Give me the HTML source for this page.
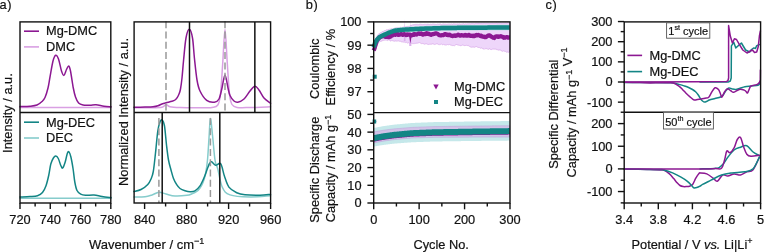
<!DOCTYPE html>
<html><head><meta charset="utf-8"><style>
html,body{margin:0;padding:0;background:#fff;}
svg{display:block;font-family:"Liberation Sans", sans-serif;will-change:transform;}
text{fill:#111;stroke:#111;stroke-width:0.2px;}
</style></head><body>
<svg width="764" height="252" viewBox="0 0 764 252" font-family="Liberation Sans, sans-serif">
<rect width="764" height="252" fill="#fff"/>
<text x="-0.6" y="8.6" font-size="12.8" text-anchor="start" letter-spacing="0.7">a)</text>
<text x="305.7" y="8.6" font-size="12.8" text-anchor="start" letter-spacing="0.8">b)</text>
<text x="545.4" y="8.6" font-size="12.8" text-anchor="start" letter-spacing="0.8">c)</text>
<path d="M20.00,107.60 L111.00,107.60" fill="none" stroke="#d9a0e3" stroke-width="1.5" stroke-linejoin="round" stroke-linecap="round" />
<path d="M20.00,106.60 C21.67,106.53 27.17,106.47 30.00,106.20 C32.83,105.93 35.00,105.78 37.00,105.00 C39.00,104.22 40.67,102.75 42.00,101.50 C43.33,100.25 44.00,99.75 45.00,97.50 C46.00,95.25 47.17,91.42 48.00,88.00 C48.83,84.58 49.17,81.50 50.00,77.00 C50.83,72.50 52.05,64.63 53.00,61.00 C53.95,57.37 54.78,55.53 55.70,55.20 C56.62,54.87 57.53,56.37 58.50,59.00 C59.47,61.63 60.60,68.27 61.50,71.00 C62.40,73.73 63.07,75.65 63.90,75.40 C64.73,75.15 65.70,71.07 66.50,69.50 C67.30,67.93 68.03,65.75 68.70,66.00 C69.37,66.25 69.73,67.33 70.50,71.00 C71.27,74.67 72.47,83.67 73.30,88.00 C74.13,92.33 74.62,94.50 75.50,97.00 C76.38,99.50 77.35,101.67 78.60,103.00 C79.85,104.33 81.10,104.63 83.00,105.00 C84.90,105.37 87.83,105.23 90.00,105.20 C92.17,105.17 93.67,104.63 96.00,104.80 C98.33,104.97 101.50,105.87 104.00,106.20 C106.50,106.53 109.83,106.70 111.00,106.80" fill="none" stroke="#8c1892" stroke-width="1.5" stroke-linejoin="round" stroke-linecap="round" />
<path d="M20.00,198.30 L111.00,198.30" fill="none" stroke="#86cccc" stroke-width="1.5" stroke-linejoin="round" stroke-linecap="round" />
<path d="M20.00,197.00 C21.67,196.93 27.08,196.82 30.00,196.60 C32.92,196.38 35.42,196.38 37.50,195.70 C39.58,195.02 41.08,194.17 42.50,192.50 C43.92,190.83 44.95,188.62 46.00,185.70 C47.05,182.78 48.00,178.62 48.80,175.00 C49.60,171.38 50.03,166.83 50.80,164.00 C51.57,161.17 52.57,159.33 53.40,158.00 C54.23,156.67 54.98,155.92 55.80,156.00 C56.62,156.08 57.47,156.92 58.30,158.50 C59.13,160.08 60.07,163.92 60.80,165.50 C61.53,167.08 61.97,168.58 62.70,168.00 C63.43,167.42 64.43,164.42 65.20,162.00 C65.97,159.58 66.68,155.20 67.30,153.50 C67.92,151.80 68.30,151.22 68.90,151.80 C69.50,152.38 70.20,154.13 70.90,157.00 C71.60,159.87 72.45,164.83 73.10,169.00 C73.75,173.17 74.15,178.42 74.80,182.00 C75.45,185.58 76.02,188.47 77.00,190.50 C77.98,192.53 79.28,193.40 80.70,194.20 C82.12,195.00 83.28,195.17 85.50,195.30 C87.72,195.43 91.25,194.80 94.00,195.00 C96.75,195.20 99.17,196.07 102.00,196.50 C104.83,196.93 109.50,197.42 111.00,197.60" fill="none" stroke="#138585" stroke-width="1.5" stroke-linejoin="round" stroke-linecap="round" />
<path d="M134.00,107.80 C136.67,107.80 145.33,107.90 150.00,107.80 C154.67,107.70 159.33,107.73 162.00,107.20 C164.67,106.67 164.67,104.67 166.00,104.60 C167.33,104.53 167.67,106.30 170.00,106.80 C172.33,107.30 175.00,107.43 180.00,107.60 C185.00,107.77 194.67,107.83 200.00,107.80 C205.33,107.77 209.03,107.87 212.00,107.40 C214.97,106.93 216.38,107.23 217.80,105.00 C219.22,102.77 219.67,101.17 220.50,94.00 C221.33,86.83 222.05,72.75 222.80,62.00 C223.55,51.25 224.27,29.50 225.00,29.50 C225.73,29.50 226.45,51.25 227.20,62.00 C227.95,72.75 228.70,86.92 229.50,94.00 C230.30,101.08 230.75,102.27 232.00,104.50 C233.25,106.73 234.00,106.90 237.00,107.40 C240.00,107.90 244.40,107.60 250.00,107.50 C255.60,107.40 267.17,106.92 270.60,106.80" fill="none" stroke="#d9a0e3" stroke-width="1.5" stroke-linejoin="round" stroke-linecap="round" />
<path d="M134.00,107.30 C135.83,107.27 141.83,107.18 145.00,107.10 C148.17,107.02 150.83,107.02 153.00,106.80 C155.17,106.58 156.50,106.27 158.00,105.80 C159.50,105.33 160.67,104.50 162.00,104.00 C163.33,103.50 164.33,103.25 166.00,102.80 C167.67,102.35 170.50,101.77 172.00,101.30 C173.50,100.83 174.13,100.62 175.00,100.00 C175.87,99.38 176.53,98.60 177.20,97.60 C177.87,96.60 178.45,95.43 179.00,94.00 C179.55,92.57 180.00,91.67 180.50,89.00 C181.00,86.33 181.48,82.83 182.00,78.00 C182.52,73.17 182.93,66.67 183.60,60.00 C184.27,53.33 185.05,43.12 186.00,38.00 C186.95,32.88 188.22,29.30 189.30,29.30 C190.38,29.30 191.65,33.22 192.50,38.00 C193.35,42.78 193.65,51.00 194.40,58.00 C195.15,65.00 196.07,74.50 197.00,80.00 C197.93,85.50 198.38,87.60 200.00,91.00 C201.62,94.40 204.30,98.53 206.70,100.40 C209.10,102.27 212.35,102.43 214.40,102.20 C216.45,101.97 217.73,101.37 219.00,99.00 C220.27,96.63 221.00,92.00 222.00,88.00 C223.00,84.00 224.00,75.00 225.00,75.00 C226.00,75.00 227.17,84.58 228.00,88.00 C228.83,91.42 229.00,93.33 230.00,95.50 C231.00,97.67 232.70,99.88 234.00,101.00 C235.30,102.12 236.13,102.53 237.80,102.20 C239.47,101.87 241.97,100.87 244.00,99.00 C246.03,97.13 248.18,93.13 250.00,91.00 C251.82,88.87 253.40,86.37 254.90,86.20 C256.40,86.03 257.48,88.03 259.00,90.00 C260.52,91.97 262.07,95.78 264.00,98.00 C265.93,100.22 269.50,102.42 270.60,103.30" fill="none" stroke="#8c1892" stroke-width="1.5" stroke-linejoin="round" stroke-linecap="round" />
<path d="M134.00,197.10 C135.83,197.05 142.00,197.15 145.00,196.80 C148.00,196.45 149.68,195.77 152.00,195.00 C154.32,194.23 156.57,192.37 158.90,192.20 C161.23,192.03 163.32,193.37 166.00,194.00 C168.68,194.63 171.50,195.78 175.00,196.00 C178.50,196.22 184.17,195.67 187.00,195.30 C189.83,194.93 190.38,194.43 192.00,193.80 C193.62,193.17 195.37,192.47 196.70,191.50 C198.03,190.53 198.95,189.50 200.00,188.00 C201.05,186.50 202.08,184.83 203.00,182.50 C203.92,180.17 204.75,177.75 205.50,174.00 C206.25,170.25 206.92,166.00 207.50,160.00 C208.08,154.00 208.52,144.90 209.00,138.00 C209.48,131.10 209.82,119.10 210.40,118.60 C210.98,118.10 211.73,128.10 212.50,135.00 C213.27,141.90 214.12,154.33 215.00,160.00 C215.88,165.67 216.60,164.50 217.80,169.00 C219.00,173.50 220.17,182.68 222.20,187.00 C224.23,191.32 225.37,193.23 230.00,194.90 C234.63,196.57 243.23,196.85 250.00,197.00 C256.77,197.15 267.17,196.00 270.60,195.80" fill="none" stroke="#86cccc" stroke-width="1.5" stroke-linejoin="round" stroke-linecap="round" />
<path d="M134.00,191.50 C135.17,191.17 138.70,190.68 141.00,189.50 C143.30,188.32 146.13,186.15 147.80,184.40 C149.47,182.65 150.08,181.15 151.00,179.00 C151.92,176.85 152.55,175.83 153.30,171.50 C154.05,167.17 154.75,159.75 155.50,153.00 C156.25,146.25 157.05,136.17 157.80,131.00 C158.55,125.83 159.27,123.83 160.00,122.00 C160.73,120.17 161.45,119.33 162.20,120.00 C162.95,120.67 163.78,121.83 164.50,126.00 C165.22,130.17 165.83,139.33 166.50,145.00 C167.17,150.67 167.75,155.83 168.50,160.00 C169.25,164.17 170.17,166.92 171.00,170.00 C171.83,173.08 172.55,176.05 173.50,178.50 C174.45,180.95 175.62,183.03 176.70,184.70 C177.78,186.37 178.62,187.50 180.00,188.50 C181.38,189.50 183.33,190.17 185.00,190.70 C186.67,191.23 188.33,191.67 190.00,191.70 C191.67,191.73 193.33,191.87 195.00,190.90 C196.67,189.93 198.50,188.08 200.00,185.90 C201.50,183.72 202.83,180.48 204.00,177.80 C205.17,175.12 206.08,172.18 207.00,169.80 C207.92,167.42 208.73,164.83 209.50,163.50 C210.27,162.17 210.58,161.50 211.60,161.80 C212.62,162.10 214.08,164.97 215.60,165.30 C217.12,165.63 219.23,162.02 220.70,163.80 C222.17,165.58 223.03,172.12 224.40,176.00 C225.77,179.88 226.85,184.32 228.90,187.10 C230.95,189.88 234.02,191.42 236.70,192.70 C239.38,193.98 241.12,194.38 245.00,194.80 C248.88,195.22 255.73,195.27 260.00,195.20 C264.27,195.13 268.83,194.53 270.60,194.40" fill="none" stroke="#138585" stroke-width="1.5" stroke-linejoin="round" stroke-linecap="round" />
<line x1="166" y1="21.2" x2="166" y2="112.5" stroke="#999" stroke-width="1.5" stroke-dasharray="7,3.3"/>
<line x1="225" y1="21.2" x2="225" y2="112.5" stroke="#999" stroke-width="1.5" stroke-dasharray="7,3.3"/>
<line x1="189.5" y1="21.9" x2="189.5" y2="112.5" stroke="#111" stroke-width="1.5" />
<line x1="254.85" y1="21.9" x2="254.85" y2="112.5" stroke="#111" stroke-width="1.5" />
<line x1="158.9" y1="118" x2="158.9" y2="203" stroke="#999" stroke-width="1.5" stroke-dasharray="7,3.3"/>
<line x1="210.4" y1="118" x2="210.4" y2="203" stroke="#999" stroke-width="1.5" stroke-dasharray="7,3.3"/>
<line x1="162.2" y1="112.5" x2="162.2" y2="203" stroke="#111" stroke-width="1.5" />
<line x1="219.8" y1="112.5" x2="219.8" y2="203" stroke="#111" stroke-width="1.5" />
<rect x="20" y="21.9" width="90.8" height="181.1" fill="none" stroke="#111" stroke-width="1.4"/>
<line x1="20" y1="112.5" x2="110.8" y2="112.5" stroke="#111" stroke-width="1.4" />
<rect x="134.1" y="21.9" width="136.50000000000003" height="181.1" fill="none" stroke="#111" stroke-width="1.4"/>
<line x1="134.1" y1="112.5" x2="270.6" y2="112.5" stroke="#111" stroke-width="1.4" />
<line x1="20.0" y1="203" x2="20.0" y2="209" stroke="#111" stroke-width="1.4" />
<text x="20.0" y="224.0" font-size="12.8" text-anchor="middle" >720</text>
<line x1="35.13333333333333" y1="203" x2="35.13333333333333" y2="206.5" stroke="#111" stroke-width="1.4" />
<line x1="50.266666666666666" y1="203" x2="50.266666666666666" y2="209" stroke="#111" stroke-width="1.4" />
<text x="50.266666666666666" y="224.0" font-size="12.8" text-anchor="middle" >740</text>
<line x1="65.4" y1="203" x2="65.4" y2="206.5" stroke="#111" stroke-width="1.4" />
<line x1="80.53333333333333" y1="203" x2="80.53333333333333" y2="209" stroke="#111" stroke-width="1.4" />
<text x="80.53333333333333" y="224.0" font-size="12.8" text-anchor="middle" >760</text>
<line x1="95.66666666666667" y1="203" x2="95.66666666666667" y2="206.5" stroke="#111" stroke-width="1.4" />
<line x1="110.8" y1="203" x2="110.8" y2="209" stroke="#111" stroke-width="1.4" />
<text x="110.8" y="224.0" font-size="12.8" text-anchor="middle" >780</text>
<line x1="144.6" y1="203" x2="144.6" y2="209" stroke="#111" stroke-width="1.4" />
<text x="144.6" y="224.0" font-size="12.8" text-anchor="middle" >840</text>
<line x1="165.6" y1="203" x2="165.6" y2="206.5" stroke="#111" stroke-width="1.4" />
<line x1="186.60000000000002" y1="203" x2="186.60000000000002" y2="209" stroke="#111" stroke-width="1.4" />
<text x="186.60000000000002" y="224.0" font-size="12.8" text-anchor="middle" >880</text>
<line x1="207.60000000000002" y1="203" x2="207.60000000000002" y2="206.5" stroke="#111" stroke-width="1.4" />
<line x1="228.60000000000002" y1="203" x2="228.60000000000002" y2="209" stroke="#111" stroke-width="1.4" />
<text x="228.60000000000002" y="224.0" font-size="12.8" text-anchor="middle" >920</text>
<line x1="249.60000000000002" y1="203" x2="249.60000000000002" y2="206.5" stroke="#111" stroke-width="1.4" />
<line x1="270.6" y1="203" x2="270.6" y2="209" stroke="#111" stroke-width="1.4" />
<text x="270.6" y="224.0" font-size="12.8" text-anchor="middle" >960</text>
<text x="89.0" y="248.8" font-size="13" text-anchor="start" >Wavenumber / cm<tspan dy="-4.8" font-size="9">−1</tspan></text>
<line x1="24" y1="31.2" x2="39" y2="31.2" stroke="#8c1892" stroke-width="1.6" />
<text x="46" y="35.4" font-size="12.8" text-anchor="start" >Mg-DMC</text>
<line x1="24" y1="46.9" x2="39" y2="46.9" stroke="#d9a0e3" stroke-width="1.6" />
<text x="46" y="51.3" font-size="12.8" text-anchor="start" >DMC</text>
<line x1="24" y1="122.2" x2="39" y2="122.2" stroke="#138585" stroke-width="1.6" />
<text x="46" y="126.6" font-size="12.8" text-anchor="start" >Mg-DEC</text>
<line x1="24" y1="138" x2="39" y2="138" stroke="#86cccc" stroke-width="1.6" />
<text x="46" y="142.3" font-size="12.8" text-anchor="start" >DEC</text>
<text transform="translate(12.2,113.1) rotate(-90)" font-size="12.8" text-anchor="middle">Intensity / a.u.</text>
<text transform="translate(127.6,112) rotate(-90)" font-size="12.8" text-anchor="middle">Normalized Intensity / a.u.</text>
<path d="M373.70,50.07 L374.20,48.13 L374.70,46.15 L375.20,44.23 L375.70,42.09 L376.20,40.19 L376.70,37.64 L377.20,35.89 L377.70,34.85 L378.20,34.37 L378.70,34.22 L379.20,33.45 L379.70,33.37 L380.20,32.94 L380.70,32.82 L381.20,32.54 L381.70,31.90 L382.20,31.73 L382.70,31.46 L383.20,31.55 L383.70,31.16 L384.20,30.64 L384.70,30.86 L385.20,30.31 L385.70,30.44 L386.20,29.98 L386.70,29.75 L387.20,30.11 L387.70,29.56 L388.20,29.40 L388.70,29.71 L389.20,29.48 L389.70,28.97 L390.20,29.30 L390.70,28.96 L391.20,28.97 L391.70,28.60 L392.20,28.96 L392.70,28.73 L393.20,28.82 L393.70,28.70 L394.20,28.26 L394.70,28.22 L395.20,28.02 L395.70,27.93 L396.20,27.80 L396.70,27.86 L397.20,27.96 L397.70,27.52 L398.20,27.85 L398.70,27.56 L399.20,27.47 L399.70,27.69 L400.20,27.44 L400.70,27.29 L401.20,27.34 L401.70,27.42 L402.20,26.98 L402.70,27.49 L403.20,26.86 L403.70,27.25 L404.20,27.26 L404.70,26.71 L405.20,27.12 L405.70,26.82 L406.20,26.90 L406.70,26.51 L407.20,26.48 L407.70,26.51 L408.20,26.79 L408.70,26.15 L409.20,26.30 L409.70,26.22 L410.20,26.05 L410.70,25.51 L411.20,25.33 L411.70,25.25 L412.20,25.22 L412.70,24.63 L413.20,24.83 L413.70,24.68 L414.20,24.71 L414.70,24.21 L415.20,24.75 L415.70,24.23 L416.20,24.37 L416.70,24.53 L417.20,24.71 L417.70,24.35 L418.20,24.70 L418.70,24.46 L419.20,24.32 L419.70,24.32 L420.20,24.23 L420.70,24.16 L421.20,24.20 L421.70,24.51 L422.20,24.69 L422.70,24.18 L423.20,24.11 L423.70,24.67 L424.20,24.39 L424.70,24.31 L425.20,24.20 L425.70,24.41 L426.20,24.54 L426.70,24.31 L427.20,24.28 L427.70,24.06 L428.20,24.57 L428.70,24.03 L429.20,24.30 L429.70,24.50 L430.20,24.07 L430.70,24.43 L431.20,24.55 L431.70,24.35 L432.20,24.44 L432.70,24.03 L433.20,24.22 L433.70,24.04 L434.20,24.45 L434.70,24.11 L435.20,24.20 L435.70,24.52 L436.20,24.43 L436.70,24.50 L437.20,24.18 L437.70,24.19 L438.20,24.33 L438.70,24.17 L439.20,24.06 L439.70,24.12 L440.20,23.96 L440.70,24.09 L441.20,24.45 L441.70,24.43 L442.20,24.22 L442.70,24.14 L443.20,24.03 L443.70,23.88 L444.20,23.98 L444.70,24.28 L445.20,24.33 L445.70,24.02 L446.20,24.27 L446.70,24.25 L447.20,24.20 L447.70,24.17 L448.20,24.22 L448.70,23.98 L449.20,24.18 L449.70,23.92 L450.20,24.04 L450.70,24.20 L451.20,24.15 L451.70,23.90 L452.20,24.29 L452.70,24.10 L453.20,24.05 L453.70,23.71 L454.20,24.02 L454.70,23.83 L455.20,24.08 L455.70,23.94 L456.20,24.15 L456.70,24.04 L457.20,24.12 L457.70,23.84 L458.20,24.01 L458.70,24.05 L459.20,24.10 L459.70,23.80 L460.20,24.09 L460.70,24.10 L461.20,23.98 L461.70,24.14 L462.20,24.12 L462.70,23.85 L463.20,23.85 L463.70,23.62 L464.20,24.02 L464.70,24.07 L465.20,23.78 L465.70,23.90 L466.20,23.91 L466.70,23.91 L467.20,23.56 L467.70,23.92 L468.20,23.79 L468.70,23.83 L469.20,23.68 L469.70,23.79 L470.20,23.87 L470.70,23.78 L471.20,23.82 L471.70,23.40 L472.20,23.47 L472.70,23.63 L473.20,23.74 L473.70,23.48 L474.20,23.75 L474.70,23.71 L475.20,23.34 L475.70,23.59 L476.20,23.44 L476.70,23.32 L477.20,23.36 L477.70,23.46 L478.20,23.37 L478.70,23.37 L479.20,23.27 L479.70,23.52 L480.20,23.46 L480.70,23.59 L481.20,23.57 L481.70,23.35 L482.20,23.74 L482.70,23.19 L483.20,23.42 L483.70,23.33 L484.20,23.40 L484.70,23.22 L485.20,23.64 L485.70,23.36 L486.20,23.14 L486.70,23.48 L487.20,23.16 L487.70,23.42 L488.20,23.29 L488.70,23.43 L489.20,23.64 L489.70,23.55 L490.20,23.30 L490.70,23.53 L491.20,23.42 L491.70,23.25 L492.20,23.10 L492.70,23.36 L493.20,23.34 L493.70,23.56 L494.20,23.56 L494.70,23.34 L495.20,23.17 L495.70,23.49 L496.20,22.95 L496.70,23.00 L497.20,23.27 L497.70,23.29 L498.20,22.99 L498.70,23.28 L499.20,23.43 L499.70,23.11 L500.20,23.13 L500.70,23.00 L501.20,23.03 L501.70,23.43 L502.20,23.07 L502.70,23.41 L503.20,23.37 L503.70,23.17 L504.20,22.96 L504.70,23.38 L505.20,23.08 L505.70,23.03 L506.20,22.96 L506.70,23.35 L507.20,23.04 L507.70,22.91 L508.20,23.02 L508.70,22.80 L509.20,23.09 L509.70,22.97 L509.70,51.85 L509.20,51.89 L508.70,52.17 L508.20,52.42 L507.70,52.08 L507.20,52.09 L506.70,52.29 L506.20,51.87 L505.70,51.57 L505.20,51.34 L504.70,51.34 L504.20,51.14 L503.70,51.01 L503.20,50.81 L502.70,51.16 L502.20,51.39 L501.70,50.98 L501.20,50.78 L500.70,50.18 L500.20,49.88 L499.70,50.01 L499.20,49.96 L498.70,50.17 L498.20,49.95 L497.70,49.84 L497.20,49.60 L496.70,49.70 L496.20,48.94 L495.70,49.06 L495.20,49.22 L494.70,49.15 L494.20,48.98 L493.70,48.95 L493.20,49.15 L492.70,49.04 L492.20,49.31 L491.70,49.44 L491.20,49.83 L490.70,49.34 L490.20,49.25 L489.70,48.69 L489.20,48.94 L488.70,49.24 L488.20,49.34 L487.70,49.29 L487.20,48.71 L486.70,48.51 L486.20,48.83 L485.70,48.84 L485.20,48.45 L484.70,48.79 L484.20,49.29 L483.70,48.84 L483.20,48.90 L482.70,48.76 L482.20,48.26 L481.70,47.95 L481.20,48.04 L480.70,48.26 L480.20,47.94 L479.70,47.54 L479.20,47.57 L478.70,47.43 L478.20,47.44 L477.70,47.42 L477.20,46.72 L476.70,46.53 L476.20,46.66 L475.70,46.69 L475.20,46.97 L474.70,47.14 L474.20,47.42 L473.70,47.16 L473.20,46.95 L472.70,47.14 L472.20,46.95 L471.70,47.36 L471.20,46.95 L470.70,46.98 L470.20,46.81 L469.70,46.59 L469.20,46.04 L468.70,46.02 L468.20,45.38 L467.70,45.59 L467.20,45.36 L466.70,45.37 L466.20,45.34 L465.70,45.45 L465.20,45.48 L464.70,45.55 L464.20,45.77 L463.70,45.23 L463.20,45.13 L462.70,45.03 L462.20,45.17 L461.70,45.35 L461.20,45.66 L460.70,45.64 L460.20,45.68 L459.70,45.52 L459.20,45.06 L458.70,44.97 L458.20,45.39 L457.70,45.06 L457.20,44.97 L456.70,44.41 L456.20,44.66 L455.70,44.80 L455.20,45.18 L454.70,45.58 L454.20,45.75 L453.70,45.59 L453.20,45.57 L452.70,45.54 L452.20,45.59 L451.70,45.28 L451.20,45.37 L450.70,45.07 L450.20,44.88 L449.70,44.44 L449.20,44.68 L448.70,44.70 L448.20,44.77 L447.70,44.58 L447.20,44.65 L446.70,44.86 L446.20,44.99 L445.70,44.85 L445.20,45.24 L444.70,44.96 L444.20,44.79 L443.70,44.24 L443.20,44.52 L442.70,44.76 L442.20,44.55 L441.70,43.98 L441.20,44.18 L440.70,44.54 L440.20,44.24 L439.70,44.66 L439.20,44.31 L438.70,44.42 L438.20,44.39 L437.70,43.91 L437.20,44.03 L436.70,43.78 L436.20,44.00 L435.70,44.33 L435.20,44.08 L434.70,44.44 L434.20,44.26 L433.70,43.96 L433.20,44.20 L432.70,43.87 L432.20,43.88 L431.70,44.05 L431.20,44.38 L430.70,44.36 L430.20,44.08 L429.70,44.30 L429.20,44.24 L428.70,44.50 L428.20,44.42 L427.70,44.40 L427.20,43.98 L426.70,43.91 L426.20,43.70 L425.70,43.97 L425.20,43.70 L424.70,44.10 L424.20,44.23 L423.70,43.78 L423.20,43.69 L422.70,43.47 L422.20,43.53 L421.70,43.48 L421.20,43.76 L420.70,43.29 L420.20,42.85 L419.70,42.51 L419.20,42.68 L418.70,42.88 L418.20,42.79 L417.70,43.00 L417.20,43.35 L416.70,43.13 L416.20,43.40 L415.70,43.45 L415.20,43.31 L414.70,43.66 L414.20,43.24 L413.70,43.43 L413.20,43.86 L412.70,43.75 L412.20,43.35 L411.70,43.22 L411.20,43.53 L410.70,43.24 L410.20,43.77 L409.70,43.72 L409.20,43.32 L408.70,42.86 L408.20,42.58 L407.70,43.03 L407.20,42.87 L406.70,42.55 L406.20,42.13 L405.70,42.27 L405.20,42.63 L404.70,42.27 L404.20,41.96 L403.70,42.11 L403.20,42.12 L402.70,41.99 L402.20,41.81 L401.70,41.70 L401.20,41.98 L400.70,41.50 L400.20,41.09 L399.70,41.16 L399.20,41.25 L398.70,41.08 L398.20,40.70 L397.70,41.11 L397.20,40.77 L396.70,40.95 L396.20,41.29 L395.70,40.98 L395.20,41.12 L394.70,41.32 L394.20,40.97 L393.70,41.03 L393.20,40.93 L392.70,40.74 L392.20,40.65 L391.70,40.71 L391.20,40.40 L390.70,40.88 L390.20,40.89 L389.70,40.52 L389.20,40.03 L388.70,39.94 L388.20,40.07 L387.70,40.48 L387.20,40.37 L386.70,40.07 L386.20,40.13 L385.70,40.09 L385.20,39.98 L384.70,40.11 L384.20,40.24 L383.70,40.18 L383.20,40.58 L382.70,40.51 L382.20,41.11 L381.70,41.11 L381.20,41.22 L380.70,41.27 L380.20,41.47 L379.70,41.54 L379.20,41.92 L378.70,41.58 L378.20,42.86 L377.70,44.09 L377.20,45.40 L376.70,46.18 L376.20,46.73 L375.70,47.92 L375.20,48.86 L374.70,50.38 L374.20,51.10 L373.70,51.81Z" fill="#eed6fa" stroke="#d6a2e6" stroke-width="0.7"/>
<path d="M403.8,41 L404.7,19 L405.6,41 Z" fill="#dcb0ec"/>
<path d="M409.2,46 L410.3,20 L411.4,46 Z" fill="#dcb0ec"/>
<path d="M373.70,44.60 L374.20,43.00 L374.70,41.40 L375.20,39.80 L375.70,39.04 L376.20,38.28 L376.70,37.52 L377.20,36.76 L377.70,36.12 L378.20,35.66 L378.70,35.21 L379.20,34.75 L379.70,34.30 L380.20,34.06 L380.70,33.82 L381.20,33.59 L381.70,33.35 L382.20,33.11 L382.70,32.87 L383.20,32.63 L383.70,32.40 L384.20,32.16 L384.70,31.93 L385.20,31.70 L385.70,31.47 L386.20,31.25 L386.70,31.02 L387.20,30.79 L387.70,30.56 L388.20,30.33 L388.70,30.10 L389.20,29.93 L389.70,29.75 L390.20,29.58 L390.70,29.40 L391.20,29.23 L391.70,29.05 L392.20,28.88 L392.70,28.70 L393.20,28.53 L393.70,28.35 L394.20,28.18 L394.70,28.00 L395.20,27.88 L395.70,27.83 L396.20,27.78 L396.70,27.73 L397.20,27.68 L397.70,27.63 L398.20,27.58 L398.70,27.53 L399.20,27.48 L399.70,27.43 L400.20,27.38 L400.70,27.33 L401.20,27.28 L401.70,27.23 L402.20,27.18 L402.70,27.13 L403.20,27.08 L403.70,27.03 L404.20,26.98 L404.70,26.93 L405.20,26.89 L405.70,26.87 L406.20,26.84 L406.70,26.82 L407.20,26.79 L407.70,26.77 L408.20,26.74 L408.70,26.72 L409.20,26.69 L409.70,26.67 L410.20,26.64 L410.70,26.62 L411.20,26.59 L411.70,26.57 L412.20,26.54 L412.70,26.52 L413.20,26.49 L413.70,26.47 L414.20,26.44 L414.70,26.42 L415.20,26.39 L415.70,26.37 L416.20,26.34 L416.70,26.32 L417.20,26.29 L417.70,26.27 L418.20,26.24 L418.70,26.22 L419.20,26.19 L419.70,26.17 L420.20,26.14 L420.70,26.12 L421.20,26.09 L421.70,26.07 L422.20,26.04 L422.70,26.02 L423.20,25.99 L423.70,25.97 L424.20,25.94 L424.70,25.92 L425.20,25.89 L425.70,25.88 L426.20,25.86 L426.70,25.85 L427.20,25.83 L427.70,25.82 L428.20,25.80 L428.70,25.79 L429.20,25.77 L429.70,25.76 L430.20,25.74 L430.70,25.73 L431.20,25.71 L431.70,25.70 L432.20,25.68 L432.70,25.67 L433.20,25.65 L433.70,25.64 L434.20,25.62 L434.70,25.60 L435.20,25.59 L435.70,25.57 L436.20,25.56 L436.70,25.54 L437.20,25.53 L437.70,25.51 L438.20,25.50 L438.70,25.48 L439.20,25.47 L439.70,25.45 L440.20,25.44 L440.70,25.42 L441.20,25.41 L441.70,25.39 L442.20,25.38 L442.70,25.36 L443.20,25.35 L443.70,25.33 L444.20,25.32 L444.70,25.30 L445.20,25.29 L445.70,25.29 L446.20,25.28 L446.70,25.28 L447.20,25.27 L447.70,25.27 L448.20,25.26 L448.70,25.26 L449.20,25.25 L449.70,25.25 L450.20,25.24 L450.70,25.24 L451.20,25.23 L451.70,25.23 L452.20,25.22 L452.70,25.22 L453.20,25.21 L453.70,25.21 L454.20,25.20 L454.70,25.20 L455.20,25.19 L455.70,25.19 L456.20,25.18 L456.70,25.18 L457.20,25.17 L457.70,25.17 L458.20,25.16 L458.70,25.16 L459.20,25.15 L459.70,25.14 L460.20,25.14 L460.70,25.13 L461.20,25.13 L461.70,25.12 L462.20,25.12 L462.70,25.11 L463.20,25.11 L463.70,25.10 L464.20,25.10 L464.70,25.09 L465.20,25.09 L465.70,25.08 L466.20,25.08 L466.70,25.07 L467.20,25.07 L467.70,25.06 L468.20,25.06 L468.70,25.05 L469.20,25.05 L469.70,25.04 L470.20,25.04 L470.70,25.03 L471.20,25.03 L471.70,25.02 L472.20,25.02 L472.70,25.01 L473.20,25.01 L473.70,25.00 L474.20,25.00 L474.70,24.99 L475.20,24.99 L475.70,24.99 L476.20,24.99 L476.70,24.98 L477.20,24.98 L477.70,24.98 L478.20,24.98 L478.70,24.97 L479.20,24.97 L479.70,24.97 L480.20,24.96 L480.70,24.96 L481.20,24.96 L481.70,24.96 L482.20,24.95 L482.70,24.95 L483.20,24.95 L483.70,24.94 L484.20,24.94 L484.70,24.94 L485.20,24.94 L485.70,24.93 L486.20,24.93 L486.70,24.93 L487.20,24.93 L487.70,24.92 L488.20,24.92 L488.70,24.92 L489.20,24.91 L489.70,24.91 L490.20,24.91 L490.70,24.91 L491.20,24.90 L491.70,24.90 L492.20,24.90 L492.70,24.90 L493.20,24.89 L493.70,24.89 L494.20,24.89 L494.70,24.88 L495.20,24.88 L495.70,24.88 L496.20,24.88 L496.70,24.87 L497.20,24.87 L497.70,24.87 L498.20,24.87 L498.70,24.86 L499.20,24.86 L499.70,24.86 L500.20,24.85 L500.70,24.85 L501.20,24.85 L501.70,24.85 L502.20,24.84 L502.70,24.84 L503.20,24.84 L503.70,24.83 L504.20,24.83 L504.70,24.83 L505.20,24.83 L505.70,24.82 L506.20,24.82 L506.70,24.82 L507.20,24.82 L507.70,24.81 L508.20,24.81 L508.70,24.81 L509.20,24.80 L509.70,24.80 L509.70,30.20 L509.20,30.20 L508.70,30.21 L508.20,30.21 L507.70,30.21 L507.20,30.22 L506.70,30.22 L506.20,30.22 L505.70,30.22 L505.20,30.23 L504.70,30.23 L504.20,30.23 L503.70,30.23 L503.20,30.24 L502.70,30.24 L502.20,30.24 L501.70,30.25 L501.20,30.25 L500.70,30.25 L500.20,30.25 L499.70,30.26 L499.20,30.26 L498.70,30.26 L498.20,30.27 L497.70,30.27 L497.20,30.27 L496.70,30.27 L496.20,30.28 L495.70,30.28 L495.20,30.28 L494.70,30.28 L494.20,30.29 L493.70,30.29 L493.20,30.29 L492.70,30.30 L492.20,30.30 L491.70,30.30 L491.20,30.30 L490.70,30.31 L490.20,30.31 L489.70,30.31 L489.20,30.31 L488.70,30.32 L488.20,30.32 L487.70,30.32 L487.20,30.33 L486.70,30.33 L486.20,30.33 L485.70,30.33 L485.20,30.34 L484.70,30.34 L484.20,30.34 L483.70,30.34 L483.20,30.35 L482.70,30.35 L482.20,30.35 L481.70,30.36 L481.20,30.36 L480.70,30.36 L480.20,30.36 L479.70,30.37 L479.20,30.37 L478.70,30.37 L478.20,30.38 L477.70,30.38 L477.20,30.38 L476.70,30.38 L476.20,30.39 L475.70,30.39 L475.20,30.39 L474.70,30.39 L474.20,30.40 L473.70,30.40 L473.20,30.41 L472.70,30.41 L472.20,30.42 L471.70,30.42 L471.20,30.43 L470.70,30.43 L470.20,30.44 L469.70,30.44 L469.20,30.45 L468.70,30.45 L468.20,30.46 L467.70,30.46 L467.20,30.47 L466.70,30.47 L466.20,30.48 L465.70,30.48 L465.20,30.49 L464.70,30.49 L464.20,30.50 L463.70,30.50 L463.20,30.51 L462.70,30.51 L462.20,30.52 L461.70,30.52 L461.20,30.53 L460.70,30.53 L460.20,30.54 L459.70,30.54 L459.20,30.55 L458.70,30.56 L458.20,30.56 L457.70,30.57 L457.20,30.57 L456.70,30.58 L456.20,30.58 L455.70,30.59 L455.20,30.59 L454.70,30.60 L454.20,30.60 L453.70,30.61 L453.20,30.61 L452.70,30.62 L452.20,30.62 L451.70,30.63 L451.20,30.63 L450.70,30.64 L450.20,30.64 L449.70,30.65 L449.20,30.65 L448.70,30.66 L448.20,30.66 L447.70,30.67 L447.20,30.67 L446.70,30.68 L446.20,30.68 L445.70,30.69 L445.20,30.69 L444.70,30.70 L444.20,30.72 L443.70,30.73 L443.20,30.75 L442.70,30.76 L442.20,30.78 L441.70,30.79 L441.20,30.81 L440.70,30.82 L440.20,30.84 L439.70,30.85 L439.20,30.87 L438.70,30.88 L438.20,30.90 L437.70,30.91 L437.20,30.93 L436.70,30.94 L436.20,30.96 L435.70,30.97 L435.20,30.99 L434.70,31.00 L434.20,31.02 L433.70,31.04 L433.20,31.05 L432.70,31.07 L432.20,31.08 L431.70,31.10 L431.20,31.11 L430.70,31.13 L430.20,31.14 L429.70,31.16 L429.20,31.17 L428.70,31.19 L428.20,31.20 L427.70,31.22 L427.20,31.23 L426.70,31.25 L426.20,31.26 L425.70,31.28 L425.20,31.29 L424.70,31.32 L424.20,31.34 L423.70,31.37 L423.20,31.39 L422.70,31.41 L422.20,31.44 L421.70,31.46 L421.20,31.49 L420.70,31.52 L420.20,31.54 L419.70,31.57 L419.20,31.59 L418.70,31.62 L418.20,31.64 L417.70,31.66 L417.20,31.69 L416.70,31.71 L416.20,31.74 L415.70,31.77 L415.20,31.79 L414.70,31.82 L414.20,31.84 L413.70,31.87 L413.20,31.89 L412.70,31.91 L412.20,31.94 L411.70,31.96 L411.20,31.99 L410.70,32.02 L410.20,32.04 L409.70,32.07 L409.20,32.09 L408.70,32.12 L408.20,32.14 L407.70,32.16 L407.20,32.19 L406.70,32.22 L406.20,32.24 L405.70,32.27 L405.20,32.29 L404.70,32.33 L404.20,32.38 L403.70,32.43 L403.20,32.48 L402.70,32.53 L402.20,32.58 L401.70,32.63 L401.20,32.68 L400.70,32.73 L400.20,32.78 L399.70,32.83 L399.20,32.88 L398.70,32.93 L398.20,32.98 L397.70,33.03 L397.20,33.08 L396.70,33.13 L396.20,33.18 L395.70,33.23 L395.20,33.28 L394.70,33.40 L394.20,33.58 L393.70,33.75 L393.20,33.93 L392.70,34.10 L392.20,34.28 L391.70,34.45 L391.20,34.63 L390.70,34.80 L390.20,34.98 L389.70,35.15 L389.20,35.33 L388.70,35.50 L388.20,35.73 L387.70,35.96 L387.20,36.19 L386.70,36.42 L386.20,36.65 L385.70,36.88 L385.20,37.10 L384.70,37.33 L384.20,37.56 L383.70,37.80 L383.20,38.03 L382.70,38.27 L382.20,38.51 L381.70,38.75 L381.20,38.99 L380.70,39.22 L380.20,39.46 L379.70,39.70 L379.20,40.15 L378.70,40.61 L378.20,41.06 L377.70,41.52 L377.20,42.16 L376.70,42.92 L376.20,43.68 L375.70,44.44 L375.20,45.20 L374.70,46.80 L374.20,48.40 L373.70,50.00Z" fill="#b5dde0"/>
<path d="M373.70,50.59 L374.20,49.26 L374.70,47.92 L375.20,46.03 L375.70,44.40 L376.20,42.79 L376.70,41.39 L377.20,39.85 L377.70,39.45 L378.20,39.19 L378.70,38.55 L379.20,37.76 L379.70,37.64 L380.20,37.14 L380.70,36.84 L381.20,36.64 L381.70,36.54 L382.20,36.14 L382.70,36.11 L383.20,35.94 L383.70,36.21 L384.20,36.27 L384.70,36.69 L385.20,36.79 L385.70,36.97 L386.20,36.92 L386.70,36.74 L387.20,36.95 L387.70,36.95 L388.20,37.24 L388.70,37.24 L389.20,37.21 L389.70,36.74 L390.20,36.87 L390.70,36.53 L391.20,35.99 L391.70,35.45 L392.20,35.08 L392.70,34.85 L393.20,35.05 L393.70,34.82 L394.20,34.39 L394.70,34.72 L395.20,34.79 L395.70,34.36 L396.20,34.00 L396.70,33.78 L397.20,33.81 L397.70,34.33 L398.20,34.87 L398.70,34.98 L399.20,34.69 L399.70,34.64 L400.20,34.52 L400.70,34.39 L401.20,33.95 L401.70,34.15 L402.20,34.56 L402.70,34.80 L403.20,34.37 L403.70,34.44 L404.20,34.13 L404.70,34.41 L405.20,34.37 L405.70,34.83 L406.20,35.07 L406.70,34.60 L407.20,34.39 L407.70,34.81 L408.20,34.70 L408.70,34.59 L409.20,34.50 L409.70,34.74 L410.20,35.12 L410.70,35.03 L411.20,35.39 L411.70,35.32 L412.20,34.77 L412.70,35.00 L413.20,34.81 L413.70,34.27 L414.20,34.74 L414.70,34.19 L415.20,34.26 L415.70,34.22 L416.20,34.59 L416.70,34.41 L417.20,34.07 L417.70,33.85 L418.20,33.58 L418.70,33.71 L419.20,33.61 L419.70,33.92 L420.20,33.67 L420.70,33.56 L421.20,33.37 L421.70,33.93 L422.20,34.27 L422.70,34.56 L423.20,34.57 L423.70,34.36 L424.20,33.93 L424.70,34.24 L425.20,34.18 L425.70,33.69 L426.20,33.41 L426.70,33.11 L427.20,33.47 L427.70,33.97 L428.20,33.69 L428.70,34.05 L429.20,33.89 L429.70,34.12 L430.20,34.49 L430.70,34.57 L431.20,34.82 L431.70,34.61 L432.20,34.07 L432.70,34.11 L433.20,34.23 L433.70,33.92 L434.20,33.87 L434.70,33.76 L435.20,33.38 L435.70,33.34 L436.20,33.39 L436.70,33.52 L437.20,33.86 L437.70,33.85 L438.20,34.42 L438.70,34.75 L439.20,35.14 L439.70,35.24 L440.20,35.31 L440.70,35.23 L441.20,35.43 L441.70,35.17 L442.20,35.18 L442.70,35.27 L443.20,35.20 L443.70,34.90 L444.20,34.44 L444.70,34.07 L445.20,34.02 L445.70,34.20 L446.20,34.54 L446.70,34.78 L447.20,34.58 L447.70,35.04 L448.20,34.78 L448.70,35.00 L449.20,34.54 L449.70,34.84 L450.20,35.01 L450.70,35.44 L451.20,35.75 L451.70,35.81 L452.20,36.01 L452.70,36.09 L453.20,36.03 L453.70,35.57 L454.20,35.50 L454.70,35.82 L455.20,35.43 L455.70,35.84 L456.20,35.77 L456.70,35.55 L457.20,34.98 L457.70,34.88 L458.20,34.59 L458.70,34.82 L459.20,35.26 L459.70,35.65 L460.20,35.69 L460.70,35.50 L461.20,35.06 L461.70,35.27 L462.20,35.31 L462.70,35.51 L463.20,35.35 L463.70,35.72 L464.20,35.36 L464.70,35.16 L465.20,34.95 L465.70,35.12 L466.20,35.55 L466.70,35.19 L467.20,35.35 L467.70,35.62 L468.20,35.31 L468.70,34.88 L469.20,35.03 L469.70,35.42 L470.20,35.80 L470.70,35.98 L471.20,35.82 L471.70,35.70 L472.20,35.70 L472.70,36.08 L473.20,35.80 L473.70,35.54 L474.20,35.65 L474.70,36.11 L475.20,35.74 L475.70,35.28 L476.20,34.97 L476.70,35.17 L477.20,35.38 L477.70,35.14 L478.20,34.95 L478.70,35.20 L479.20,35.47 L479.70,35.75 L480.20,36.03 L480.70,35.61 L481.20,35.68 L481.70,36.09 L482.20,36.56 L482.70,36.32 L483.20,36.66 L483.70,36.74 L484.20,37.09 L484.70,36.70 L485.20,36.84 L485.70,37.11 L486.20,36.97 L486.70,36.48 L487.20,36.17 L487.70,35.86 L488.20,35.55 L488.70,35.34 L489.20,35.63 L489.70,35.37 L490.20,35.81 L490.70,36.16 L491.20,36.54 L491.70,36.86 L492.20,37.04 L492.70,37.41 L493.20,37.77 L493.70,37.74 L494.20,38.05 L494.70,37.47 L495.20,36.97 L495.70,36.51 L496.20,36.27 L496.70,36.24 L497.20,36.30 L497.70,36.57 L498.20,36.87 L498.70,36.47 L499.20,36.46 L499.70,36.59 L500.20,36.53 L500.70,36.23 L501.20,36.46 L501.70,36.43 L502.20,36.73 L502.70,36.79 L503.20,37.31 L503.70,37.75 L504.20,37.24 L504.70,37.51 L505.20,37.70 L505.70,37.44 L506.20,37.04 L506.70,37.07 L507.20,36.98 L507.70,37.28 L508.20,37.72 L508.70,37.57 L509.20,37.35 L509.70,37.37" fill="none" stroke="#8c1892" stroke-width="4.2" stroke-linejoin="round" stroke-linecap="butt" />
<path d="M373.70,47.30 L374.20,45.70 L374.70,44.10 L375.20,42.50 L375.70,41.74 L376.20,40.98 L376.70,40.22 L377.20,39.46 L377.70,38.82 L378.20,38.36 L378.70,37.91 L379.20,37.45 L379.70,37.00 L380.20,36.76 L380.70,36.52 L381.20,36.29 L381.70,36.05 L382.20,35.81 L382.70,35.57 L383.20,35.33 L383.70,35.10 L384.20,34.86 L384.70,34.63 L385.20,34.40 L385.70,34.17 L386.20,33.95 L386.70,33.72 L387.20,33.49 L387.70,33.26 L388.20,33.03 L388.70,32.80 L389.20,32.63 L389.70,32.45 L390.20,32.28 L390.70,32.10 L391.20,31.93 L391.70,31.75 L392.20,31.58 L392.70,31.40 L393.20,31.23 L393.70,31.05 L394.20,30.88 L394.70,30.70 L395.20,30.58 L395.70,30.53 L396.20,30.48 L396.70,30.43 L397.20,30.38 L397.70,30.33 L398.20,30.28 L398.70,30.23 L399.20,30.18 L399.70,30.13 L400.20,30.08 L400.70,30.03 L401.20,29.98 L401.70,29.93 L402.20,29.88 L402.70,29.83 L403.20,29.78 L403.70,29.73 L404.20,29.68 L404.70,29.63 L405.20,29.59 L405.70,29.57 L406.20,29.54 L406.70,29.52 L407.20,29.49 L407.70,29.46 L408.20,29.44 L408.70,29.42 L409.20,29.39 L409.70,29.37 L410.20,29.34 L410.70,29.32 L411.20,29.29 L411.70,29.27 L412.20,29.24 L412.70,29.21 L413.20,29.19 L413.70,29.17 L414.20,29.14 L414.70,29.12 L415.20,29.09 L415.70,29.07 L416.20,29.04 L416.70,29.02 L417.20,28.99 L417.70,28.96 L418.20,28.94 L418.70,28.92 L419.20,28.89 L419.70,28.87 L420.20,28.84 L420.70,28.82 L421.20,28.79 L421.70,28.77 L422.20,28.74 L422.70,28.71 L423.20,28.69 L423.70,28.67 L424.20,28.64 L424.70,28.62 L425.20,28.59 L425.70,28.58 L426.20,28.56 L426.70,28.55 L427.20,28.53 L427.70,28.52 L428.20,28.50 L428.70,28.49 L429.20,28.47 L429.70,28.46 L430.20,28.44 L430.70,28.43 L431.20,28.41 L431.70,28.40 L432.20,28.38 L432.70,28.37 L433.20,28.35 L433.70,28.34 L434.20,28.32 L434.70,28.30 L435.20,28.29 L435.70,28.27 L436.20,28.26 L436.70,28.24 L437.20,28.23 L437.70,28.21 L438.20,28.20 L438.70,28.18 L439.20,28.17 L439.70,28.15 L440.20,28.14 L440.70,28.12 L441.20,28.11 L441.70,28.09 L442.20,28.08 L442.70,28.06 L443.20,28.05 L443.70,28.03 L444.20,28.02 L444.70,28.00 L445.20,27.99 L445.70,27.99 L446.20,27.98 L446.70,27.98 L447.20,27.97 L447.70,27.97 L448.20,27.96 L448.70,27.96 L449.20,27.95 L449.70,27.95 L450.20,27.94 L450.70,27.94 L451.20,27.93 L451.70,27.93 L452.20,27.92 L452.70,27.92 L453.20,27.91 L453.70,27.91 L454.20,27.90 L454.70,27.90 L455.20,27.89 L455.70,27.89 L456.20,27.88 L456.70,27.88 L457.20,27.87 L457.70,27.87 L458.20,27.86 L458.70,27.86 L459.20,27.85 L459.70,27.84 L460.20,27.84 L460.70,27.83 L461.20,27.83 L461.70,27.82 L462.20,27.82 L462.70,27.81 L463.20,27.81 L463.70,27.80 L464.20,27.80 L464.70,27.79 L465.20,27.79 L465.70,27.78 L466.20,27.78 L466.70,27.77 L467.20,27.77 L467.70,27.76 L468.20,27.76 L468.70,27.75 L469.20,27.75 L469.70,27.74 L470.20,27.74 L470.70,27.73 L471.20,27.73 L471.70,27.72 L472.20,27.72 L472.70,27.71 L473.20,27.71 L473.70,27.70 L474.20,27.70 L474.70,27.69 L475.20,27.69 L475.70,27.69 L476.20,27.69 L476.70,27.68 L477.20,27.68 L477.70,27.68 L478.20,27.68 L478.70,27.67 L479.20,27.67 L479.70,27.67 L480.20,27.66 L480.70,27.66 L481.20,27.66 L481.70,27.66 L482.20,27.65 L482.70,27.65 L483.20,27.65 L483.70,27.64 L484.20,27.64 L484.70,27.64 L485.20,27.64 L485.70,27.63 L486.20,27.63 L486.70,27.63 L487.20,27.63 L487.70,27.62 L488.20,27.62 L488.70,27.62 L489.20,27.61 L489.70,27.61 L490.20,27.61 L490.70,27.61 L491.20,27.60 L491.70,27.60 L492.20,27.60 L492.70,27.60 L493.20,27.59 L493.70,27.59 L494.20,27.59 L494.70,27.58 L495.20,27.58 L495.70,27.58 L496.20,27.58 L496.70,27.57 L497.20,27.57 L497.70,27.57 L498.20,27.57 L498.70,27.56 L499.20,27.56 L499.70,27.56 L500.20,27.55 L500.70,27.55 L501.20,27.55 L501.70,27.55 L502.20,27.54 L502.70,27.54 L503.20,27.54 L503.70,27.53 L504.20,27.53 L504.70,27.53 L505.20,27.53 L505.70,27.52 L506.20,27.52 L506.70,27.52 L507.20,27.52 L507.70,27.51 L508.20,27.51 L508.70,27.51 L509.20,27.50 L509.70,27.50" fill="none" stroke="#138585" stroke-width="4.5" stroke-linejoin="round" stroke-linecap="butt" />
<path d="M408.8,34 L410.4,43.5 L412,34 Z" fill="#8c1892"/>
<rect x="372.7" y="74.7" width="4" height="4" fill="#138585"/>
<path d="M373,119.3 L376.6,121.5 L373,123.8 Z" fill="#8c1892"/>
<rect x="372.6" y="119.5" width="3.6" height="4" fill="#138585"/>
<path d="M373.70,128.00 L374.20,127.90 L374.70,127.80 L375.20,127.70 L375.70,127.60 L376.20,127.50 L376.70,127.40 L377.20,127.30 L377.70,127.20 L378.20,127.10 L378.70,127.00 L379.20,126.91 L379.70,126.82 L380.20,126.73 L380.70,126.64 L381.20,126.55 L381.70,126.46 L382.20,126.37 L382.70,126.28 L383.20,126.19 L383.70,126.10 L384.20,126.03 L384.70,125.96 L385.20,125.89 L385.70,125.82 L386.20,125.75 L386.70,125.68 L387.20,125.61 L387.70,125.54 L388.20,125.47 L388.70,125.40 L389.20,125.33 L389.70,125.26 L390.20,125.19 L390.70,125.12 L391.20,125.05 L391.70,124.98 L392.20,124.91 L392.70,124.84 L393.20,124.77 L393.70,124.70 L394.20,124.65 L394.70,124.61 L395.20,124.56 L395.70,124.51 L396.20,124.46 L396.70,124.42 L397.20,124.37 L397.70,124.32 L398.20,124.27 L398.70,124.23 L399.20,124.18 L399.70,124.13 L400.20,124.09 L400.70,124.04 L401.20,123.99 L401.70,123.94 L402.20,123.90 L402.70,123.85 L403.20,123.80 L403.70,123.76 L404.20,123.71 L404.70,123.66 L405.20,123.61 L405.70,123.57 L406.20,123.52 L406.70,123.47 L407.20,123.42 L407.70,123.38 L408.20,123.33 L408.70,123.28 L409.20,123.24 L409.70,123.19 L410.20,123.14 L410.70,123.09 L411.20,123.05 L411.70,123.00 L412.20,122.98 L412.70,122.96 L413.20,122.94 L413.70,122.92 L414.20,122.90 L414.70,122.88 L415.20,122.86 L415.70,122.84 L416.20,122.82 L416.70,122.80 L417.20,122.78 L417.70,122.76 L418.20,122.74 L418.70,122.72 L419.20,122.70 L419.70,122.68 L420.20,122.66 L420.70,122.64 L421.20,122.62 L421.70,122.60 L422.20,122.58 L422.70,122.56 L423.20,122.54 L423.70,122.52 L424.20,122.50 L424.70,122.48 L425.20,122.46 L425.70,122.44 L426.20,122.42 L426.70,122.40 L427.20,122.38 L427.70,122.36 L428.20,122.34 L428.70,122.32 L429.20,122.30 L429.70,122.28 L430.20,122.26 L430.70,122.24 L431.20,122.22 L431.70,122.20 L432.20,122.18 L432.70,122.16 L433.20,122.14 L433.70,122.12 L434.20,122.11 L434.70,122.11 L435.20,122.10 L435.70,122.09 L436.20,122.08 L436.70,122.07 L437.20,122.06 L437.70,122.06 L438.20,122.05 L438.70,122.04 L439.20,122.03 L439.70,122.02 L440.20,122.02 L440.70,122.01 L441.20,122.00 L441.70,121.99 L442.20,121.98 L442.70,121.97 L443.20,121.97 L443.70,121.96 L444.20,121.95 L444.70,121.94 L445.20,121.93 L445.70,121.92 L446.20,121.92 L446.70,121.91 L447.20,121.90 L447.70,121.89 L448.20,121.88 L448.70,121.88 L449.20,121.87 L449.70,121.86 L450.20,121.85 L450.70,121.84 L451.20,121.83 L451.70,121.83 L452.20,121.82 L452.70,121.81 L453.20,121.80 L453.70,121.79 L454.20,121.78 L454.70,121.78 L455.20,121.77 L455.70,121.76 L456.20,121.75 L456.70,121.74 L457.20,121.74 L457.70,121.73 L458.20,121.72 L458.70,121.71 L459.20,121.70 L459.70,121.69 L460.20,121.69 L460.70,121.68 L461.20,121.67 L461.70,121.66 L462.20,121.65 L462.70,121.64 L463.20,121.64 L463.70,121.63 L464.20,121.62 L464.70,121.61 L465.20,121.60 L465.70,121.59 L466.20,121.59 L466.70,121.58 L467.20,121.57 L467.70,121.56 L468.20,121.55 L468.70,121.55 L469.20,121.54 L469.70,121.53 L470.20,121.52 L470.70,121.51 L471.20,121.50 L471.70,121.50 L472.20,121.49 L472.70,121.48 L473.20,121.47 L473.70,121.46 L474.20,121.46 L474.70,121.45 L475.20,121.44 L475.70,121.44 L476.20,121.43 L476.70,121.42 L477.20,121.42 L477.70,121.41 L478.20,121.41 L478.70,121.40 L479.20,121.39 L479.70,121.39 L480.20,121.38 L480.70,121.37 L481.20,121.37 L481.70,121.36 L482.20,121.35 L482.70,121.35 L483.20,121.34 L483.70,121.34 L484.20,121.33 L484.70,121.32 L485.20,121.32 L485.70,121.31 L486.20,121.30 L486.70,121.30 L487.20,121.29 L487.70,121.28 L488.20,121.28 L488.70,121.27 L489.20,121.27 L489.70,121.26 L490.20,121.25 L490.70,121.25 L491.20,121.24 L491.70,121.23 L492.20,121.23 L492.70,121.22 L493.20,121.21 L493.70,121.21 L494.20,121.20 L494.70,121.20 L495.20,121.19 L495.70,121.18 L496.20,121.18 L496.70,121.17 L497.20,121.16 L497.70,121.16 L498.20,121.15 L498.70,121.14 L499.20,121.14 L499.70,121.13 L500.20,121.13 L500.70,121.12 L501.20,121.11 L501.70,121.11 L502.20,121.10 L502.70,121.09 L503.20,121.09 L503.70,121.08 L504.20,121.07 L504.70,121.07 L505.20,121.06 L505.70,121.05 L506.20,121.05 L506.70,121.04 L507.20,121.04 L507.70,121.03 L508.20,121.02 L508.70,121.02 L509.20,121.01 L509.70,121.00 L509.70,140.60 L509.20,140.61 L508.70,140.61 L508.20,140.62 L507.70,140.62 L507.20,140.63 L506.70,140.63 L506.20,140.64 L505.70,140.64 L505.20,140.65 L504.70,140.65 L504.20,140.66 L503.70,140.66 L503.20,140.67 L502.70,140.67 L502.20,140.68 L501.70,140.68 L501.20,140.69 L500.70,140.69 L500.20,140.70 L499.70,140.70 L499.20,140.70 L498.70,140.71 L498.20,140.71 L497.70,140.72 L497.20,140.72 L496.70,140.73 L496.20,140.73 L495.70,140.74 L495.20,140.74 L494.70,140.75 L494.20,140.75 L493.70,140.76 L493.20,140.76 L492.70,140.77 L492.20,140.77 L491.70,140.78 L491.20,140.78 L490.70,140.79 L490.20,140.79 L489.70,140.80 L489.20,140.80 L488.70,140.81 L488.20,140.81 L487.70,140.82 L487.20,140.82 L486.70,140.83 L486.20,140.83 L485.70,140.84 L485.20,140.84 L484.70,140.85 L484.20,140.85 L483.70,140.86 L483.20,140.86 L482.70,140.86 L482.20,140.87 L481.70,140.87 L481.20,140.88 L480.70,140.88 L480.20,140.89 L479.70,140.89 L479.20,140.90 L478.70,140.90 L478.20,140.91 L477.70,140.91 L477.20,140.92 L476.70,140.92 L476.20,140.93 L475.70,140.93 L475.20,140.94 L474.70,140.94 L474.20,140.95 L473.70,140.95 L473.20,140.96 L472.70,140.97 L472.20,140.97 L471.70,140.98 L471.20,140.99 L470.70,140.99 L470.20,141.00 L469.70,141.01 L469.20,141.01 L468.70,141.02 L468.20,141.03 L467.70,141.03 L467.20,141.04 L466.70,141.05 L466.20,141.05 L465.70,141.06 L465.20,141.07 L464.70,141.07 L464.20,141.08 L463.70,141.09 L463.20,141.09 L462.70,141.10 L462.20,141.11 L461.70,141.11 L461.20,141.12 L460.70,141.13 L460.20,141.13 L459.70,141.14 L459.20,141.15 L458.70,141.15 L458.20,141.16 L457.70,141.17 L457.20,141.17 L456.70,141.18 L456.20,141.19 L455.70,141.19 L455.20,141.20 L454.70,141.21 L454.20,141.21 L453.70,141.22 L453.20,141.23 L452.70,141.23 L452.20,141.24 L451.70,141.25 L451.20,141.25 L450.70,141.26 L450.20,141.27 L449.70,141.27 L449.20,141.28 L448.70,141.29 L448.20,141.29 L447.70,141.30 L447.20,141.31 L446.70,141.31 L446.20,141.32 L445.70,141.33 L445.20,141.34 L444.70,141.34 L444.20,141.35 L443.70,141.36 L443.20,141.36 L442.70,141.37 L442.20,141.38 L441.70,141.38 L441.20,141.39 L440.70,141.40 L440.20,141.40 L439.70,141.41 L439.20,141.42 L438.70,141.42 L438.20,141.43 L437.70,141.44 L437.20,141.44 L436.70,141.45 L436.20,141.46 L435.70,141.46 L435.20,141.47 L434.70,141.48 L434.20,141.48 L433.70,141.49 L433.20,141.51 L432.70,141.53 L432.20,141.54 L431.70,141.56 L431.20,141.58 L430.70,141.60 L430.20,141.62 L429.70,141.64 L429.20,141.66 L428.70,141.67 L428.20,141.69 L427.70,141.71 L427.20,141.73 L426.70,141.75 L426.20,141.77 L425.70,141.78 L425.20,141.80 L424.70,141.82 L424.20,141.84 L423.70,141.86 L423.20,141.88 L422.70,141.89 L422.20,141.91 L421.70,141.93 L421.20,141.95 L420.70,141.97 L420.20,141.99 L419.70,142.01 L419.20,142.02 L418.70,142.04 L418.20,142.06 L417.70,142.08 L417.20,142.10 L416.70,142.12 L416.20,142.13 L415.70,142.15 L415.20,142.17 L414.70,142.19 L414.20,142.21 L413.70,142.23 L413.20,142.24 L412.70,142.26 L412.20,142.28 L411.70,142.30 L411.20,142.34 L410.70,142.38 L410.20,142.41 L409.70,142.45 L409.20,142.49 L408.70,142.53 L408.20,142.57 L407.70,142.60 L407.20,142.64 L406.70,142.68 L406.20,142.72 L405.70,142.76 L405.20,142.79 L404.70,142.83 L404.20,142.87 L403.70,142.91 L403.20,142.95 L402.70,142.98 L402.20,143.02 L401.70,143.06 L401.20,143.10 L400.70,143.14 L400.20,143.17 L399.70,143.21 L399.20,143.25 L398.70,143.29 L398.20,143.33 L397.70,143.36 L397.20,143.40 L396.70,143.44 L396.20,143.48 L395.70,143.52 L395.20,143.55 L394.70,143.59 L394.20,143.63 L393.70,143.67 L393.20,143.73 L392.70,143.79 L392.20,143.85 L391.70,143.91 L391.20,143.97 L390.70,144.03 L390.20,144.09 L389.70,144.15 L389.20,144.22 L388.70,144.28 L388.20,144.34 L387.70,144.40 L387.20,144.46 L386.70,144.52 L386.20,144.58 L385.70,144.64 L385.20,144.70 L384.70,144.76 L384.20,144.82 L383.70,144.88 L383.20,144.97 L382.70,145.05 L382.20,145.13 L381.70,145.21 L381.20,145.29 L380.70,145.37 L380.20,145.45 L379.70,145.53 L379.20,145.61 L378.70,145.69 L378.20,145.78 L377.70,145.87 L377.20,145.96 L376.70,146.06 L376.20,146.15 L375.70,146.24 L375.20,146.33 L374.70,146.42 L374.20,146.51 L373.70,146.60Z" fill="#c5e8ea"/>
<path d="M373.70,132.00 L374.20,131.91 L374.70,131.81 L375.20,131.72 L375.70,131.62 L376.20,131.53 L376.70,131.43 L377.20,131.34 L377.70,131.24 L378.20,131.15 L378.70,131.05 L379.20,130.97 L379.70,130.88 L380.20,130.80 L380.70,130.71 L381.20,130.63 L381.70,130.54 L382.20,130.46 L382.70,130.37 L383.20,130.29 L383.70,130.21 L384.20,130.14 L384.70,130.08 L385.20,130.01 L385.70,129.95 L386.20,129.88 L386.70,129.82 L387.20,129.75 L387.70,129.69 L388.20,129.62 L388.70,129.56 L389.20,129.49 L389.70,129.43 L390.20,129.36 L390.70,129.30 L391.20,129.23 L391.70,129.17 L392.20,129.10 L392.70,129.04 L393.20,128.98 L393.70,128.91 L394.20,128.87 L394.70,128.83 L395.20,128.78 L395.70,128.74 L396.20,128.70 L396.70,128.66 L397.20,128.62 L397.70,128.57 L398.20,128.53 L398.70,128.49 L399.20,128.45 L399.70,128.41 L400.20,128.37 L400.70,128.32 L401.20,128.28 L401.70,128.24 L402.20,128.20 L402.70,128.16 L403.20,128.11 L403.70,128.07 L404.20,128.03 L404.70,127.99 L405.20,127.95 L405.70,127.90 L406.20,127.86 L406.70,127.82 L407.20,127.78 L407.70,127.74 L408.20,127.69 L408.70,127.65 L409.20,127.61 L409.70,127.57 L410.20,127.53 L410.70,127.48 L411.20,127.44 L411.70,127.40 L412.20,127.38 L412.70,127.36 L413.20,127.34 L413.70,127.33 L414.20,127.31 L414.70,127.29 L415.20,127.27 L415.70,127.25 L416.20,127.23 L416.70,127.22 L417.20,127.20 L417.70,127.18 L418.20,127.16 L418.70,127.14 L419.20,127.12 L419.70,127.11 L420.20,127.09 L420.70,127.07 L421.20,127.05 L421.70,127.03 L422.20,127.01 L422.70,126.99 L423.20,126.98 L423.70,126.96 L424.20,126.94 L424.70,126.92 L425.20,126.90 L425.70,126.88 L426.20,126.87 L426.70,126.85 L427.20,126.83 L427.70,126.81 L428.20,126.79 L428.70,126.77 L429.20,126.76 L429.70,126.74 L430.20,126.72 L430.70,126.70 L431.20,126.68 L431.70,126.66 L432.20,126.64 L432.70,126.63 L433.20,126.61 L433.70,126.59 L434.20,126.58 L434.70,126.58 L435.20,126.57 L435.70,126.56 L436.20,126.56 L436.70,126.55 L437.20,126.54 L437.70,126.54 L438.20,126.53 L438.70,126.52 L439.20,126.52 L439.70,126.51 L440.20,126.50 L440.70,126.50 L441.20,126.49 L441.70,126.48 L442.20,126.48 L442.70,126.47 L443.20,126.46 L443.70,126.46 L444.20,126.45 L444.70,126.44 L445.20,126.44 L445.70,126.43 L446.20,126.42 L446.70,126.41 L447.20,126.41 L447.70,126.40 L448.20,126.39 L448.70,126.39 L449.20,126.38 L449.70,126.37 L450.20,126.37 L450.70,126.36 L451.20,126.35 L451.70,126.35 L452.20,126.34 L452.70,126.33 L453.20,126.33 L453.70,126.32 L454.20,126.31 L454.70,126.31 L455.20,126.30 L455.70,126.29 L456.20,126.29 L456.70,126.28 L457.20,126.27 L457.70,126.27 L458.20,126.26 L458.70,126.25 L459.20,126.25 L459.70,126.24 L460.20,126.23 L460.70,126.23 L461.20,126.22 L461.70,126.21 L462.20,126.21 L462.70,126.20 L463.20,126.19 L463.70,126.19 L464.20,126.18 L464.70,126.17 L465.20,126.17 L465.70,126.16 L466.20,126.15 L466.70,126.15 L467.20,126.14 L467.70,126.13 L468.20,126.13 L468.70,126.12 L469.20,126.11 L469.70,126.11 L470.20,126.10 L470.70,126.09 L471.20,126.09 L471.70,126.08 L472.20,126.07 L472.70,126.07 L473.20,126.06 L473.70,126.05 L474.20,126.05 L474.70,126.04 L475.20,126.04 L475.70,126.03 L476.20,126.03 L476.70,126.02 L477.20,126.02 L477.70,126.01 L478.20,126.01 L478.70,126.00 L479.20,126.00 L479.70,125.99 L480.20,125.99 L480.70,125.98 L481.20,125.98 L481.70,125.97 L482.20,125.97 L482.70,125.96 L483.20,125.96 L483.70,125.96 L484.20,125.95 L484.70,125.95 L485.20,125.94 L485.70,125.94 L486.20,125.93 L486.70,125.93 L487.20,125.92 L487.70,125.92 L488.20,125.91 L488.70,125.91 L489.20,125.90 L489.70,125.90 L490.20,125.89 L490.70,125.89 L491.20,125.88 L491.70,125.88 L492.20,125.87 L492.70,125.87 L493.20,125.86 L493.70,125.86 L494.20,125.85 L494.70,125.85 L495.20,125.84 L495.70,125.84 L496.20,125.83 L496.70,125.83 L497.20,125.82 L497.70,125.82 L498.20,125.81 L498.70,125.81 L499.20,125.80 L499.70,125.80 L500.20,125.80 L500.70,125.79 L501.20,125.79 L501.70,125.78 L502.20,125.78 L502.70,125.77 L503.20,125.77 L503.70,125.76 L504.20,125.76 L504.70,125.75 L505.20,125.75 L505.70,125.74 L506.20,125.74 L506.70,125.73 L507.20,125.73 L507.70,125.72 L508.20,125.72 L508.70,125.71 L509.20,125.71 L509.70,125.70 L509.70,137.00 L509.20,137.00 L508.70,137.00 L508.20,137.00 L507.70,137.01 L507.20,137.01 L506.70,137.01 L506.20,137.01 L505.70,137.01 L505.20,137.01 L504.70,137.01 L504.20,137.01 L503.70,137.02 L503.20,137.02 L502.70,137.02 L502.20,137.02 L501.70,137.02 L501.20,137.02 L500.70,137.02 L500.20,137.03 L499.70,137.03 L499.20,137.03 L498.70,137.03 L498.20,137.03 L497.70,137.03 L497.20,137.03 L496.70,137.03 L496.20,137.04 L495.70,137.04 L495.20,137.04 L494.70,137.04 L494.20,137.04 L493.70,137.04 L493.20,137.04 L492.70,137.04 L492.20,137.05 L491.70,137.05 L491.20,137.05 L490.70,137.05 L490.20,137.05 L489.70,137.05 L489.20,137.05 L488.70,137.06 L488.20,137.06 L487.70,137.06 L487.20,137.06 L486.70,137.06 L486.20,137.06 L485.70,137.06 L485.20,137.06 L484.70,137.07 L484.20,137.07 L483.70,137.07 L483.20,137.07 L482.70,137.07 L482.20,137.07 L481.70,137.07 L481.20,137.07 L480.70,137.08 L480.20,137.08 L479.70,137.08 L479.20,137.08 L478.70,137.08 L478.20,137.08 L477.70,137.08 L477.20,137.08 L476.70,137.09 L476.20,137.09 L475.70,137.09 L475.20,137.09 L474.70,137.09 L474.20,137.09 L473.70,137.09 L473.20,137.10 L472.70,137.10 L472.20,137.10 L471.70,137.11 L471.20,137.11 L470.70,137.11 L470.20,137.12 L469.70,137.12 L469.20,137.12 L468.70,137.13 L468.20,137.13 L467.70,137.13 L467.20,137.13 L466.70,137.14 L466.20,137.14 L465.70,137.14 L465.20,137.15 L464.70,137.15 L464.20,137.15 L463.70,137.16 L463.20,137.16 L462.70,137.16 L462.20,137.17 L461.70,137.17 L461.20,137.17 L460.70,137.18 L460.20,137.18 L459.70,137.18 L459.20,137.19 L458.70,137.19 L458.20,137.19 L457.70,137.19 L457.20,137.20 L456.70,137.20 L456.20,137.20 L455.70,137.21 L455.20,137.21 L454.70,137.21 L454.20,137.22 L453.70,137.22 L453.20,137.22 L452.70,137.23 L452.20,137.23 L451.70,137.23 L451.20,137.24 L450.70,137.24 L450.20,137.24 L449.70,137.25 L449.20,137.25 L448.70,137.25 L448.20,137.25 L447.70,137.26 L447.20,137.26 L446.70,137.26 L446.20,137.27 L445.70,137.27 L445.20,137.27 L444.70,137.28 L444.20,137.28 L443.70,137.28 L443.20,137.29 L442.70,137.29 L442.20,137.29 L441.70,137.30 L441.20,137.30 L440.70,137.30 L440.20,137.31 L439.70,137.31 L439.20,137.31 L438.70,137.31 L438.20,137.32 L437.70,137.32 L437.20,137.32 L436.70,137.33 L436.20,137.33 L435.70,137.33 L435.20,137.34 L434.70,137.34 L434.20,137.34 L433.70,137.35 L433.20,137.36 L432.70,137.38 L432.20,137.39 L431.70,137.41 L431.20,137.42 L430.70,137.44 L430.20,137.45 L429.70,137.47 L429.20,137.48 L428.70,137.49 L428.20,137.51 L427.70,137.52 L427.20,137.54 L426.70,137.55 L426.20,137.57 L425.70,137.58 L425.20,137.60 L424.70,137.61 L424.20,137.63 L423.70,137.64 L423.20,137.66 L422.70,137.67 L422.20,137.69 L421.70,137.70 L421.20,137.72 L420.70,137.73 L420.20,137.75 L419.70,137.76 L419.20,137.78 L418.70,137.79 L418.20,137.81 L417.70,137.82 L417.20,137.84 L416.70,137.85 L416.20,137.87 L415.70,137.88 L415.20,137.90 L414.70,137.91 L414.20,137.93 L413.70,137.94 L413.20,137.96 L412.70,137.97 L412.20,137.99 L411.70,138.00 L411.20,138.05 L410.70,138.09 L410.20,138.14 L409.70,138.19 L409.20,138.24 L408.70,138.28 L408.20,138.33 L407.70,138.38 L407.20,138.43 L406.70,138.47 L406.20,138.52 L405.70,138.57 L405.20,138.61 L404.70,138.66 L404.20,138.71 L403.70,138.76 L403.20,138.80 L402.70,138.85 L402.20,138.90 L401.70,138.94 L401.20,138.99 L400.70,139.04 L400.20,139.09 L399.70,139.13 L399.20,139.18 L398.70,139.23 L398.20,139.28 L397.70,139.32 L397.20,139.37 L396.70,139.42 L396.20,139.46 L395.70,139.51 L395.20,139.56 L394.70,139.61 L394.20,139.65 L393.70,139.70 L393.20,139.77 L392.70,139.84 L392.20,139.91 L391.70,139.98 L391.20,140.05 L390.70,140.12 L390.20,140.19 L389.70,140.26 L389.20,140.33 L388.70,140.40 L388.20,140.47 L387.70,140.54 L387.20,140.61 L386.70,140.68 L386.20,140.75 L385.70,140.82 L385.20,140.89 L384.70,140.96 L384.20,141.03 L383.70,141.10 L383.20,141.19 L382.70,141.28 L382.20,141.37 L381.70,141.46 L381.20,141.55 L380.70,141.64 L380.20,141.73 L379.70,141.82 L379.20,141.91 L378.70,142.00 L378.20,142.10 L377.70,142.20 L377.20,142.30 L376.70,142.40 L376.20,142.50 L375.70,142.60 L375.20,142.70 L374.70,142.80 L374.20,142.90 L373.70,143.00Z" fill="#d2c2e8" stroke="#b89ad6" stroke-width="0.5"/>
<path d="M373.70,140.80 L374.20,140.70 L374.70,140.60 L375.20,140.50 L375.70,140.40 L376.20,140.30 L376.70,140.20 L377.20,140.10 L377.70,140.00 L378.20,139.90 L378.70,139.80 L379.20,139.71 L379.70,139.62 L380.20,139.53 L380.70,139.44 L381.20,139.35 L381.70,139.26 L382.20,139.17 L382.70,139.08 L383.20,138.99 L383.70,138.90 L384.20,138.83 L384.70,138.76 L385.20,138.69 L385.70,138.62 L386.20,138.55 L386.70,138.48 L387.20,138.41 L387.70,138.34 L388.20,138.27 L388.70,138.20 L389.20,138.13 L389.70,138.06 L390.20,137.99 L390.70,137.92 L391.20,137.85 L391.70,137.78 L392.20,137.71 L392.70,137.64 L393.20,137.57 L393.70,137.50 L394.20,137.45 L394.70,137.41 L395.20,137.36 L395.70,137.31 L396.20,137.26 L396.70,137.22 L397.20,137.17 L397.70,137.12 L398.20,137.07 L398.70,137.03 L399.20,136.98 L399.70,136.93 L400.20,136.89 L400.70,136.84 L401.20,136.79 L401.70,136.74 L402.20,136.70 L402.70,136.65 L403.20,136.60 L403.70,136.56 L404.20,136.51 L404.70,136.46 L405.20,136.41 L405.70,136.37 L406.20,136.32 L406.70,136.27 L407.20,136.22 L407.70,136.18 L408.20,136.13 L408.70,136.08 L409.20,136.04 L409.70,135.99 L410.20,135.94 L410.70,135.89 L411.20,135.85 L411.70,135.80 L412.20,135.78 L412.70,135.76 L413.20,135.74 L413.70,135.72 L414.20,135.70 L414.70,135.68 L415.20,135.66 L415.70,135.64 L416.20,135.62 L416.70,135.60 L417.20,135.57 L417.70,135.55 L418.20,135.53 L418.70,135.51 L419.20,135.49 L419.70,135.47 L420.20,135.45 L420.70,135.43 L421.20,135.41 L421.70,135.39 L422.20,135.37 L422.70,135.35 L423.20,135.33 L423.70,135.31 L424.20,135.29 L424.70,135.27 L425.20,135.25 L425.70,135.23 L426.20,135.21 L426.70,135.19 L427.20,135.17 L427.70,135.15 L428.20,135.12 L428.70,135.10 L429.20,135.08 L429.70,135.06 L430.20,135.04 L430.70,135.02 L431.20,135.00 L431.70,134.98 L432.20,134.96 L432.70,134.94 L433.20,134.92 L433.70,134.90 L434.20,134.89 L434.70,134.88 L435.20,134.87 L435.70,134.87 L436.20,134.86 L436.70,134.85 L437.20,134.84 L437.70,134.83 L438.20,134.82 L438.70,134.81 L439.20,134.80 L439.70,134.80 L440.20,134.79 L440.70,134.78 L441.20,134.77 L441.70,134.76 L442.20,134.75 L442.70,134.74 L443.20,134.73 L443.70,134.72 L444.20,134.72 L444.70,134.71 L445.20,134.70 L445.70,134.69 L446.20,134.68 L446.70,134.67 L447.20,134.66 L447.70,134.66 L448.20,134.65 L448.70,134.64 L449.20,134.63 L449.70,134.62 L450.20,134.61 L450.70,134.60 L451.20,134.59 L451.70,134.59 L452.20,134.58 L452.70,134.57 L453.20,134.56 L453.70,134.55 L454.20,134.54 L454.70,134.53 L455.20,134.52 L455.70,134.51 L456.20,134.51 L456.70,134.50 L457.20,134.49 L457.70,134.48 L458.20,134.47 L458.70,134.46 L459.20,134.45 L459.70,134.44 L460.20,134.44 L460.70,134.43 L461.20,134.42 L461.70,134.41 L462.20,134.40 L462.70,134.39 L463.20,134.38 L463.70,134.38 L464.20,134.37 L464.70,134.36 L465.20,134.35 L465.70,134.34 L466.20,134.33 L466.70,134.32 L467.20,134.31 L467.70,134.30 L468.20,134.30 L468.70,134.29 L469.20,134.28 L469.70,134.27 L470.20,134.26 L470.70,134.25 L471.20,134.24 L471.70,134.23 L472.20,134.23 L472.70,134.22 L473.20,134.21 L473.70,134.20 L474.20,134.19 L474.70,134.19 L475.20,134.18 L475.70,134.17 L476.20,134.17 L476.70,134.16 L477.20,134.15 L477.70,134.14 L478.20,134.14 L478.70,134.13 L479.20,134.12 L479.70,134.12 L480.20,134.11 L480.70,134.10 L481.20,134.10 L481.70,134.09 L482.20,134.08 L482.70,134.08 L483.20,134.07 L483.70,134.06 L484.20,134.06 L484.70,134.05 L485.20,134.04 L485.70,134.03 L486.20,134.03 L486.70,134.02 L487.20,134.01 L487.70,134.01 L488.20,134.00 L488.70,133.99 L489.20,133.99 L489.70,133.98 L490.20,133.97 L490.70,133.97 L491.20,133.96 L491.70,133.95 L492.20,133.95 L492.70,133.94 L493.20,133.93 L493.70,133.92 L494.20,133.92 L494.70,133.91 L495.20,133.90 L495.70,133.90 L496.20,133.89 L496.70,133.88 L497.20,133.88 L497.70,133.87 L498.20,133.86 L498.70,133.86 L499.20,133.85 L499.70,133.84 L500.20,133.83 L500.70,133.83 L501.20,133.82 L501.70,133.81 L502.20,133.81 L502.70,133.80 L503.20,133.79 L503.70,133.79 L504.20,133.78 L504.70,133.77 L505.20,133.77 L505.70,133.76 L506.20,133.75 L506.70,133.75 L507.20,133.74 L507.70,133.73 L508.20,133.72 L508.70,133.72 L509.20,133.71 L509.70,133.70" fill="none" stroke="#8c1892" stroke-width="1.8" stroke-linejoin="round" stroke-linecap="butt" />
<path d="M373.70,138.20 L374.20,138.10 L374.70,138.00 L375.20,137.90 L375.70,137.80 L376.20,137.70 L376.70,137.60 L377.20,137.50 L377.70,137.40 L378.20,137.30 L378.70,137.20 L379.20,137.11 L379.70,137.02 L380.20,136.93 L380.70,136.84 L381.20,136.75 L381.70,136.66 L382.20,136.57 L382.70,136.48 L383.20,136.39 L383.70,136.30 L384.20,136.23 L384.70,136.16 L385.20,136.09 L385.70,136.02 L386.20,135.95 L386.70,135.88 L387.20,135.81 L387.70,135.74 L388.20,135.67 L388.70,135.60 L389.20,135.53 L389.70,135.46 L390.20,135.39 L390.70,135.32 L391.20,135.25 L391.70,135.18 L392.20,135.11 L392.70,135.04 L393.20,134.97 L393.70,134.90 L394.20,134.85 L394.70,134.81 L395.20,134.76 L395.70,134.71 L396.20,134.66 L396.70,134.62 L397.20,134.57 L397.70,134.52 L398.20,134.47 L398.70,134.43 L399.20,134.38 L399.70,134.33 L400.20,134.29 L400.70,134.24 L401.20,134.19 L401.70,134.14 L402.20,134.10 L402.70,134.05 L403.20,134.00 L403.70,133.96 L404.20,133.91 L404.70,133.86 L405.20,133.81 L405.70,133.77 L406.20,133.72 L406.70,133.67 L407.20,133.62 L407.70,133.58 L408.20,133.53 L408.70,133.48 L409.20,133.44 L409.70,133.39 L410.20,133.34 L410.70,133.29 L411.20,133.25 L411.70,133.20 L412.20,133.18 L412.70,133.16 L413.20,133.14 L413.70,133.12 L414.20,133.10 L414.70,133.08 L415.20,133.06 L415.70,133.04 L416.20,133.02 L416.70,133.00 L417.20,132.97 L417.70,132.95 L418.20,132.93 L418.70,132.91 L419.20,132.89 L419.70,132.87 L420.20,132.85 L420.70,132.83 L421.20,132.81 L421.70,132.79 L422.20,132.77 L422.70,132.75 L423.20,132.73 L423.70,132.71 L424.20,132.69 L424.70,132.67 L425.20,132.65 L425.70,132.63 L426.20,132.61 L426.70,132.59 L427.20,132.57 L427.70,132.55 L428.20,132.53 L428.70,132.50 L429.20,132.48 L429.70,132.46 L430.20,132.44 L430.70,132.42 L431.20,132.40 L431.70,132.38 L432.20,132.36 L432.70,132.34 L433.20,132.32 L433.70,132.30 L434.20,132.29 L434.70,132.28 L435.20,132.27 L435.70,132.27 L436.20,132.26 L436.70,132.25 L437.20,132.24 L437.70,132.23 L438.20,132.22 L438.70,132.21 L439.20,132.20 L439.70,132.20 L440.20,132.19 L440.70,132.18 L441.20,132.17 L441.70,132.16 L442.20,132.15 L442.70,132.14 L443.20,132.13 L443.70,132.12 L444.20,132.12 L444.70,132.11 L445.20,132.10 L445.70,132.09 L446.20,132.08 L446.70,132.07 L447.20,132.06 L447.70,132.06 L448.20,132.05 L448.70,132.04 L449.20,132.03 L449.70,132.02 L450.20,132.01 L450.70,132.00 L451.20,131.99 L451.70,131.99 L452.20,131.98 L452.70,131.97 L453.20,131.96 L453.70,131.95 L454.20,131.94 L454.70,131.93 L455.20,131.92 L455.70,131.91 L456.20,131.91 L456.70,131.90 L457.20,131.89 L457.70,131.88 L458.20,131.87 L458.70,131.86 L459.20,131.85 L459.70,131.84 L460.20,131.84 L460.70,131.83 L461.20,131.82 L461.70,131.81 L462.20,131.80 L462.70,131.79 L463.20,131.78 L463.70,131.78 L464.20,131.77 L464.70,131.76 L465.20,131.75 L465.70,131.74 L466.20,131.73 L466.70,131.72 L467.20,131.71 L467.70,131.70 L468.20,131.70 L468.70,131.69 L469.20,131.68 L469.70,131.67 L470.20,131.66 L470.70,131.65 L471.20,131.64 L471.70,131.63 L472.20,131.63 L472.70,131.62 L473.20,131.61 L473.70,131.60 L474.20,131.59 L474.70,131.59 L475.20,131.58 L475.70,131.57 L476.20,131.57 L476.70,131.56 L477.20,131.55 L477.70,131.54 L478.20,131.54 L478.70,131.53 L479.20,131.52 L479.70,131.52 L480.20,131.51 L480.70,131.50 L481.20,131.50 L481.70,131.49 L482.20,131.48 L482.70,131.48 L483.20,131.47 L483.70,131.46 L484.20,131.46 L484.70,131.45 L485.20,131.44 L485.70,131.43 L486.20,131.43 L486.70,131.42 L487.20,131.41 L487.70,131.41 L488.20,131.40 L488.70,131.39 L489.20,131.39 L489.70,131.38 L490.20,131.37 L490.70,131.37 L491.20,131.36 L491.70,131.35 L492.20,131.35 L492.70,131.34 L493.20,131.33 L493.70,131.32 L494.20,131.32 L494.70,131.31 L495.20,131.30 L495.70,131.30 L496.20,131.29 L496.70,131.28 L497.20,131.28 L497.70,131.27 L498.20,131.26 L498.70,131.26 L499.20,131.25 L499.70,131.24 L500.20,131.23 L500.70,131.23 L501.20,131.22 L501.70,131.21 L502.20,131.21 L502.70,131.20 L503.20,131.19 L503.70,131.19 L504.20,131.18 L504.70,131.17 L505.20,131.17 L505.70,131.16 L506.20,131.15 L506.70,131.15 L507.20,131.14 L507.70,131.13 L508.20,131.12 L508.70,131.12 L509.20,131.11 L509.70,131.10" fill="none" stroke="#138585" stroke-width="6.0" stroke-linejoin="round" stroke-linecap="butt" />
<rect x="373.7" y="21.9" width="136.3" height="181.1" fill="none" stroke="#111" stroke-width="1.4"/>
<line x1="373.7" y1="112.6" x2="510" y2="112.6" stroke="#111" stroke-width="1.4" />
<line x1="367.4" y1="21.9" x2="373.7" y2="21.9" stroke="#111" stroke-width="1.4" />
<text x="361.5" y="26.299999999999997" font-size="12.8" text-anchor="end" >100</text>
<line x1="370.2" y1="33.535" x2="373.7" y2="33.535" stroke="#111" stroke-width="1.4" />
<line x1="367.4" y1="45.17" x2="373.7" y2="45.17" stroke="#111" stroke-width="1.4" />
<text x="361.5" y="49.57" font-size="12.8" text-anchor="end" >99</text>
<line x1="370.2" y1="56.805" x2="373.7" y2="56.805" stroke="#111" stroke-width="1.4" />
<line x1="367.4" y1="68.44" x2="373.7" y2="68.44" stroke="#111" stroke-width="1.4" />
<text x="361.5" y="72.84" font-size="12.8" text-anchor="end" >98</text>
<line x1="370.2" y1="80.07499999999999" x2="373.7" y2="80.07499999999999" stroke="#111" stroke-width="1.4" />
<line x1="367.4" y1="91.71000000000001" x2="373.7" y2="91.71000000000001" stroke="#111" stroke-width="1.4" />
<text x="361.5" y="96.11000000000001" font-size="12.8" text-anchor="end" >97</text>
<line x1="370.2" y1="103.345" x2="373.7" y2="103.345" stroke="#111" stroke-width="1.4" />
<line x1="367.4" y1="114.4" x2="373.7" y2="114.4" stroke="#111" stroke-width="1.4" />
<text x="361.5" y="118.80000000000001" font-size="12.8" text-anchor="end" >50</text>
<line x1="370.2" y1="123.26" x2="373.7" y2="123.26" stroke="#111" stroke-width="1.4" />
<line x1="367.4" y1="132.12" x2="373.7" y2="132.12" stroke="#111" stroke-width="1.4" />
<text x="361.5" y="136.52" font-size="12.8" text-anchor="end" >40</text>
<line x1="370.2" y1="140.98" x2="373.7" y2="140.98" stroke="#111" stroke-width="1.4" />
<line x1="367.4" y1="149.84" x2="373.7" y2="149.84" stroke="#111" stroke-width="1.4" />
<text x="361.5" y="154.24" font-size="12.8" text-anchor="end" >30</text>
<line x1="370.2" y1="158.7" x2="373.7" y2="158.7" stroke="#111" stroke-width="1.4" />
<line x1="367.4" y1="167.56" x2="373.7" y2="167.56" stroke="#111" stroke-width="1.4" />
<text x="361.5" y="171.96" font-size="12.8" text-anchor="end" >20</text>
<line x1="370.2" y1="176.42" x2="373.7" y2="176.42" stroke="#111" stroke-width="1.4" />
<line x1="367.4" y1="185.28" x2="373.7" y2="185.28" stroke="#111" stroke-width="1.4" />
<text x="361.5" y="189.68" font-size="12.8" text-anchor="end" >10</text>
<line x1="370.2" y1="194.14" x2="373.7" y2="194.14" stroke="#111" stroke-width="1.4" />
<line x1="367.4" y1="203.0" x2="373.7" y2="203.0" stroke="#111" stroke-width="1.4" />
<text x="361.5" y="207.4" font-size="12.8" text-anchor="end" >0</text>
<line x1="373.7" y1="203" x2="373.7" y2="209.3" stroke="#111" stroke-width="1.4" />
<text x="373.7" y="224.0" font-size="12.8" text-anchor="middle" >0</text>
<line x1="396.41666666666663" y1="203" x2="396.41666666666663" y2="206.5" stroke="#111" stroke-width="1.4" />
<line x1="419.1333333333333" y1="203" x2="419.1333333333333" y2="209.3" stroke="#111" stroke-width="1.4" />
<text x="419.1333333333333" y="224.0" font-size="12.8" text-anchor="middle" >100</text>
<line x1="441.85" y1="203" x2="441.85" y2="206.5" stroke="#111" stroke-width="1.4" />
<line x1="464.56666666666666" y1="203" x2="464.56666666666666" y2="209.3" stroke="#111" stroke-width="1.4" />
<text x="464.56666666666666" y="224.0" font-size="12.8" text-anchor="middle" >200</text>
<line x1="487.2833333333333" y1="203" x2="487.2833333333333" y2="206.5" stroke="#111" stroke-width="1.4" />
<line x1="510.0" y1="203" x2="510.0" y2="209.3" stroke="#111" stroke-width="1.4" />
<text x="510.0" y="224.0" font-size="12.8" text-anchor="middle" >300</text>
<text x="441.2" y="248.6" font-size="12.8" text-anchor="middle" >Cycle No.</text>
<text transform="translate(318.8,68.7) rotate(-90)" font-size="12.8" text-anchor="middle">Coulombic</text>
<text transform="translate(334.5,67.1) rotate(-90)" font-size="12.8" text-anchor="middle">Efficiency / %</text>
<text transform="translate(319.3,169.7) rotate(-90)" font-size="12.8" text-anchor="middle">Specific Discharge</text>
<text transform="translate(335,168.5) rotate(-90)" font-size="12.8" text-anchor="middle">Capacity / mAh g<tspan dy="-4.5" font-size="9">−1</tspan></text>
<path d="M433.3,84.6 L438.7,84.6 L436,89.6 Z" fill="#8c1892"/>
<rect x="434" y="100" width="4" height="4" fill="#138585"/>
<text x="454" y="91.3" font-size="12.8" text-anchor="start" >Mg-DMC</text>
<text x="454" y="106.4" font-size="12.8" text-anchor="start" >Mg-DEC</text>
<path d="M624.20,82.40 C628.50,82.43 642.70,82.55 650.00,82.60 C657.30,82.65 664.12,82.65 668.00,82.70 C671.88,82.75 671.48,82.62 673.30,82.90 C675.12,83.18 677.12,83.90 678.90,84.40 C680.68,84.90 682.38,85.38 684.00,85.90 C685.62,86.42 687.18,86.90 688.60,87.50 C690.02,88.10 691.33,88.80 692.50,89.50 C693.67,90.20 694.63,90.78 695.60,91.70 C696.57,92.62 697.50,93.85 698.30,95.00 C699.10,96.15 699.70,97.60 700.40,98.60 C701.10,99.60 701.80,100.42 702.50,101.00 C703.20,101.58 703.85,102.07 704.60,102.10 C705.35,102.13 706.20,101.55 707.00,101.20 C707.80,100.85 708.07,100.45 709.40,100.00 C710.73,99.55 713.13,99.00 715.00,98.50 C716.87,98.00 719.18,97.67 720.60,97.00 C722.02,96.33 722.60,95.58 723.50,94.50 C724.40,93.42 725.10,91.58 726.00,90.50 C726.90,89.42 727.90,88.27 728.90,88.00 C729.90,87.73 730.85,88.67 732.00,88.90 C733.15,89.13 734.47,89.52 735.80,89.40 C737.13,89.28 738.48,88.65 740.00,88.20 C741.52,87.75 743.05,87.07 744.90,86.70 C746.75,86.33 748.92,86.23 751.10,86.00 C753.28,85.77 756.52,85.77 758.00,85.30 C759.48,84.83 759.67,83.55 760.00,83.20" fill="none" stroke="#138585" stroke-width="1.5" stroke-linejoin="round" stroke-linecap="round" />
<path d="M700.00,82.00 L728.60,81.90 L730.30,81.00 L731.20,78.00 L731.40,45.80 L733.75,42.30 L735.80,47.90 L738.50,45.50 L741.40,43.00 L745.60,50.00 L749.70,52.00 L751.50,49.50 L753.90,47.90 L755.50,48.50 L756.50,46.00 L758.00,45.10 L760.00,44.40" fill="none" stroke="#138585" stroke-width="1.5" stroke-linejoin="round" stroke-linecap="round" />
<path d="M624.20,82.30 C626.83,82.35 635.70,82.50 640.00,82.60 C644.30,82.70 646.67,82.88 650.00,82.90 C653.33,82.92 657.00,82.72 660.00,82.70 C663.00,82.68 665.78,82.75 668.00,82.80 C670.22,82.85 671.48,82.45 673.30,83.00 C675.12,83.55 677.37,85.02 678.90,86.10 C680.43,87.18 681.35,88.35 682.50,89.50 C683.65,90.65 684.55,91.78 685.80,93.00 C687.05,94.22 688.60,95.63 690.00,96.80 C691.40,97.97 692.95,99.55 694.20,100.00 C695.45,100.45 696.35,99.68 697.50,99.50 C698.65,99.32 699.85,99.12 701.10,98.90 C702.35,98.68 703.73,98.48 705.00,98.20 C706.27,97.92 707.67,98.15 708.75,97.20 C709.83,96.25 710.46,94.07 711.50,92.50 C712.54,90.93 713.83,88.28 715.00,87.80 C716.17,87.32 717.58,88.57 718.50,89.60 C719.42,90.63 719.93,92.75 720.50,94.00 C721.07,95.25 721.23,97.43 721.90,97.10 C722.57,96.77 723.57,93.39 724.50,92.00 C725.43,90.61 726.50,89.00 727.50,88.75 C728.50,88.50 729.46,89.92 730.50,90.50 C731.54,91.08 732.28,92.38 733.75,92.20 C735.22,92.02 737.56,89.75 739.30,89.40 C741.04,89.05 743.08,89.75 744.20,90.10 C745.32,90.45 745.43,91.03 746.00,91.50 C746.57,91.97 747.02,93.40 747.60,92.90 C748.18,92.40 748.92,89.65 749.50,88.50 C750.08,87.35 749.90,86.65 751.10,86.00 C752.30,85.35 755.32,85.18 756.70,84.60 C758.08,84.02 758.95,82.85 759.40,82.50" fill="none" stroke="#8c1892" stroke-width="1.5" stroke-linejoin="round" stroke-linecap="round" />
<path d="M759.40,82.50 L760.30,80.00 L760.40,70.00" fill="none" stroke="#8c1892" stroke-width="1.5" stroke-linejoin="round" stroke-linecap="round" />
<path d="M624.20,82.00 L700.00,81.80 L726.50,81.60 L728.00,80.50 L728.60,78.00 L728.60,25.60 L730.30,36.00 L732.40,43.00 L734.40,38.80 L736.50,39.50 L739.30,44.40 L742.80,50.00 L747.00,53.00 L749.50,51.50 L752.50,50.00 L754.50,52.50 L756.70,52.00 L758.30,46.50 L759.40,36.00 L760.40,31.00" fill="none" stroke="#8c1892" stroke-width="1.5" stroke-linejoin="round" stroke-linecap="round" />
<path d="M624.20,169.00 C626.83,169.05 635.70,169.20 640.00,169.30 C644.30,169.40 646.67,169.48 650.00,169.60 C653.33,169.72 657.63,169.90 660.00,170.00 C662.37,170.10 662.62,169.55 664.20,170.20 C665.78,170.85 667.92,172.50 669.50,173.90 C671.08,175.30 672.48,177.18 673.70,178.60 C674.92,180.02 675.75,181.25 676.80,182.40 C677.85,183.55 678.93,184.80 680.00,185.50 C681.07,186.20 682.12,186.42 683.20,186.60 C684.28,186.78 685.45,186.67 686.50,186.60 C687.55,186.53 688.48,186.55 689.50,186.20 C690.52,185.85 691.55,185.83 692.60,184.50 C693.65,183.17 694.73,180.03 695.80,178.20 C696.87,176.37 698.22,174.38 699.00,173.50 C699.78,172.62 699.20,172.83 700.50,172.90 C701.80,172.97 704.70,173.03 706.80,173.90 C708.90,174.77 711.35,176.87 713.10,178.10 C714.85,179.33 715.72,181.82 717.30,181.30 C718.88,180.78 720.85,175.88 722.60,175.00 C724.35,174.12 725.88,176.18 727.80,176.00 C729.72,175.82 731.98,174.07 734.10,173.90 C736.22,173.73 738.38,175.35 740.50,175.00 C742.62,174.65 744.70,172.68 746.80,171.80 C748.90,170.92 751.00,172.15 753.10,169.70 C755.20,167.25 758.35,159.20 759.40,157.10" fill="none" stroke="#8c1892" stroke-width="1.5" stroke-linejoin="round" stroke-linecap="round" />
<path d="M624.20,169.00 C628.50,169.07 644.03,169.30 650.00,169.40 C655.97,169.50 657.63,169.52 660.00,169.60 C662.37,169.68 662.10,169.35 664.20,169.90 C666.30,170.45 669.80,171.70 672.60,172.90 C675.40,174.10 678.53,175.70 681.00,177.10 C683.47,178.50 685.63,179.90 687.40,181.30 C689.17,182.70 690.55,184.42 691.60,185.50 C692.65,186.58 692.83,187.45 693.70,187.80 C694.57,188.15 695.75,187.87 696.80,187.60 C697.85,187.33 699.03,186.73 700.00,186.20 C700.97,185.67 700.77,185.40 702.60,184.40 C704.43,183.40 707.85,181.77 711.00,180.20 C714.15,178.63 718.00,176.22 721.50,175.00 C725.00,173.78 728.13,173.43 732.00,172.90 C735.87,172.37 741.18,172.50 744.70,171.80 C748.22,171.10 750.65,171.15 753.10,168.70 C755.55,166.25 758.35,159.03 759.40,157.10" fill="none" stroke="#138585" stroke-width="1.5" stroke-linejoin="round" stroke-linecap="round" />
<path d="M700.00,168.90 C702.50,168.82 711.77,168.65 715.00,168.40 C718.23,168.15 717.97,168.20 719.40,167.40 C720.83,166.60 722.20,165.28 723.60,163.60 C725.00,161.92 726.05,159.57 727.80,157.30 C729.55,155.03 731.98,151.68 734.10,150.00 C736.22,148.32 738.38,147.90 740.50,147.20 C742.62,146.50 744.70,145.00 746.80,145.80 C748.90,146.60 751.00,150.37 753.10,152.00 C755.20,153.63 758.35,155.00 759.40,155.60" fill="none" stroke="#138585" stroke-width="1.5" stroke-linejoin="round" stroke-linecap="round" />
<path d="M624.20,169.10 C636.83,169.07 684.87,168.98 700.00,168.90 C715.13,168.82 711.42,168.72 715.00,168.60 C718.58,168.48 719.88,169.73 721.50,168.20 C723.12,166.67 723.82,162.27 724.70,159.40 C725.58,156.53 725.92,152.12 726.80,151.00 C727.68,149.88 728.78,153.22 730.00,152.70 C731.22,152.18 732.88,150.10 734.10,147.90 C735.32,145.70 736.23,141.25 737.30,139.50 C738.37,137.75 739.45,136.18 740.50,137.40 C741.55,138.62 742.55,144.00 743.60,146.80 C744.65,149.60 745.57,152.62 746.80,154.20 C748.03,155.78 748.90,156.13 751.00,156.30 C753.10,156.47 758.00,155.38 759.40,155.20" fill="none" stroke="#8c1892" stroke-width="1.5" stroke-linejoin="round" stroke-linecap="round" />
<rect x="624.2" y="21.9" width="136.39999999999998" height="181.1" fill="none" stroke="#111" stroke-width="1.4"/>
<line x1="624.2" y1="112.3" x2="760.6" y2="112.3" stroke="#111" stroke-width="1.4" />
<line x1="617.9000000000001" y1="21.549999999999997" x2="624.2" y2="21.549999999999997" stroke="#111" stroke-width="1.4" />
<text x="612.5" y="25.949999999999996" font-size="12.8" text-anchor="end" >300</text>
<line x1="620.7" y1="31.625" x2="624.2" y2="31.625" stroke="#111" stroke-width="1.4" />
<line x1="617.9000000000001" y1="41.699999999999996" x2="624.2" y2="41.699999999999996" stroke="#111" stroke-width="1.4" />
<text x="612.5" y="46.099999999999994" font-size="12.8" text-anchor="end" >200</text>
<line x1="620.7" y1="51.775" x2="624.2" y2="51.775" stroke="#111" stroke-width="1.4" />
<line x1="617.9000000000001" y1="61.849999999999994" x2="624.2" y2="61.849999999999994" stroke="#111" stroke-width="1.4" />
<text x="612.5" y="66.25" font-size="12.8" text-anchor="end" >100</text>
<line x1="620.7" y1="71.925" x2="624.2" y2="71.925" stroke="#111" stroke-width="1.4" />
<line x1="617.9000000000001" y1="82.0" x2="624.2" y2="82.0" stroke="#111" stroke-width="1.4" />
<text x="612.5" y="86.4" font-size="12.8" text-anchor="end" >0</text>
<line x1="620.7" y1="92.075" x2="624.2" y2="92.075" stroke="#111" stroke-width="1.4" />
<line x1="617.9000000000001" y1="102.15" x2="624.2" y2="102.15" stroke="#111" stroke-width="1.4" />
<text x="612.5" y="106.55000000000001" font-size="12.8" text-anchor="end" >-100</text>
<line x1="620.7" y1="112.225" x2="624.2" y2="112.225" stroke="#111" stroke-width="1.4" />
<line x1="617.9000000000001" y1="123.6" x2="624.2" y2="123.6" stroke="#111" stroke-width="1.4" />
<text x="612.5" y="128.0" font-size="12.8" text-anchor="end" >200</text>
<line x1="620.7" y1="134.925" x2="624.2" y2="134.925" stroke="#111" stroke-width="1.4" />
<line x1="617.9000000000001" y1="146.25" x2="624.2" y2="146.25" stroke="#111" stroke-width="1.4" />
<text x="612.5" y="150.65" font-size="12.8" text-anchor="end" >100</text>
<line x1="620.7" y1="157.57500000000002" x2="624.2" y2="157.57500000000002" stroke="#111" stroke-width="1.4" />
<line x1="617.9000000000001" y1="168.9" x2="624.2" y2="168.9" stroke="#111" stroke-width="1.4" />
<text x="612.5" y="173.3" font-size="12.8" text-anchor="end" >0</text>
<line x1="620.7" y1="180.225" x2="624.2" y2="180.225" stroke="#111" stroke-width="1.4" />
<line x1="617.9000000000001" y1="191.55" x2="624.2" y2="191.55" stroke="#111" stroke-width="1.4" />
<text x="612.5" y="195.95000000000002" font-size="12.8" text-anchor="end" >-100</text>
<line x1="620.7" y1="202.875" x2="624.2" y2="202.875" stroke="#111" stroke-width="1.4" />
<line x1="624.2" y1="203" x2="624.2" y2="209.3" stroke="#111" stroke-width="1.4" />
<text x="624.2" y="224.0" font-size="12.8" text-anchor="middle" >3.4</text>
<line x1="641.25" y1="203" x2="641.25" y2="206.5" stroke="#111" stroke-width="1.4" />
<line x1="658.3000000000001" y1="203" x2="658.3000000000001" y2="209.3" stroke="#111" stroke-width="1.4" />
<text x="658.3000000000001" y="224.0" font-size="12.8" text-anchor="middle" >3.8</text>
<line x1="675.35" y1="203" x2="675.35" y2="206.5" stroke="#111" stroke-width="1.4" />
<line x1="692.4000000000001" y1="203" x2="692.4000000000001" y2="209.3" stroke="#111" stroke-width="1.4" />
<text x="692.4000000000001" y="224.0" font-size="12.8" text-anchor="middle" >4.2</text>
<line x1="709.45" y1="203" x2="709.45" y2="206.5" stroke="#111" stroke-width="1.4" />
<line x1="726.5" y1="203" x2="726.5" y2="209.3" stroke="#111" stroke-width="1.4" />
<text x="726.5" y="224.0" font-size="12.8" text-anchor="middle" >4.6</text>
<line x1="743.55" y1="203" x2="743.55" y2="206.5" stroke="#111" stroke-width="1.4" />
<line x1="760.6" y1="203" x2="760.6" y2="209.3" stroke="#111" stroke-width="1.4" />
<text x="760.6" y="224.0" font-size="12.8" text-anchor="middle" >5</text>
<text x="692" y="248.6" font-size="12.8" text-anchor="middle" >Potential / V <tspan font-style="italic">vs.</tspan> Li|Li<tspan dy="-4.5" font-size="9">+</tspan></text>
<text transform="translate(557.9,114.2) rotate(-90)" font-size="12.8" text-anchor="middle">Specific Differential</text>
<text transform="translate(576.0,112.4) rotate(-90)" font-size="12.8" text-anchor="middle">Capacity / mAh g<tspan dy="-4.5" font-size="9">−1</tspan> V<tspan dy="-4.5" font-size="9">−1</tspan></text>
<line x1="627.4" y1="55.4" x2="642.1" y2="55.4" stroke="#8c1892" stroke-width="1.6" />
<text x="649.5" y="59.8" font-size="12.8" text-anchor="start" >Mg-DMC</text>
<line x1="627.4" y1="71.6" x2="642.1" y2="71.6" stroke="#138585" stroke-width="1.6" />
<text x="649.5" y="76" font-size="12.8" text-anchor="start" >Mg-DEC</text>
<rect x="666.6" y="22.8" width="43.2" height="15.4" fill="#fff" stroke="#555" stroke-width="0.9"/>
<text x="668.3" y="34.6" font-size="11" text-anchor="start" >1<tspan dy="-4.5" font-size="7.2">st</tspan><tspan dy="4.5"> cycle</tspan></text>
<rect x="663.5" y="112.3" width="49.9" height="16.7" fill="#fff" stroke="#555" stroke-width="0.9"/>
<text x="665.2" y="125.6" font-size="11" text-anchor="start" >50<tspan dy="-4.5" font-size="7.2">th</tspan><tspan dy="4.5"> cycle</tspan></text>
</svg>
</body></html>
